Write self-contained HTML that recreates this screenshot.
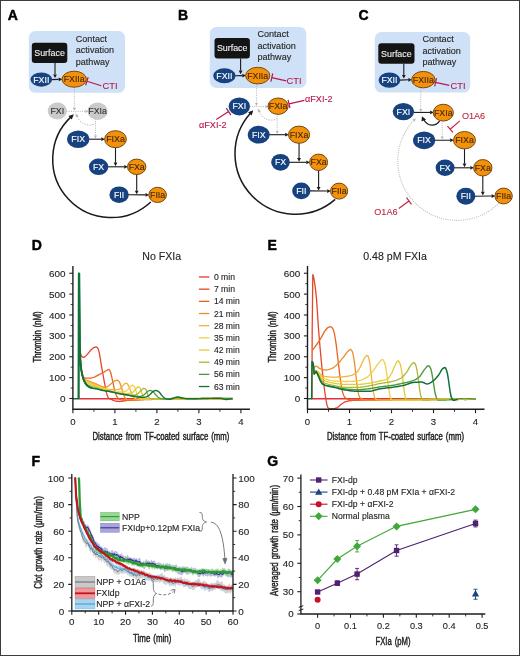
<!DOCTYPE html>
<html><head><meta charset="utf-8"><title>Figure</title>
<style>html,body{margin:0;padding:0;background:#fff}svg{display:block}text{font-family:"Liberation Sans",sans-serif}</style>
</head><body>
<svg width="520" height="656" viewBox="0 0 520 656">
<defs><clipPath id="clipDE"><rect x="60" y="260" width="440" height="149"/></clipPath><clipPath id="clipF"><rect x="71.8" y="477.6" width="161.2" height="133.4"/></clipPath></defs>
<rect x="0" y="0" width="520" height="656" fill="#fff"/>
<rect x="28.8" y="31.1" width="96.2" height="61.7" rx="6.5" fill="#cfe1f6"/>
<rect x="31.8" y="42.7" width="35.5" height="20.2" rx="3" fill="#141414"/>
<text x="49.55" y="55.9" font-size="8.9" fill="#f0f0f0" stroke="#f0f0f0" stroke-width="0.12" text-anchor="middle" stroke-width="0">Surface</text>
<text x="75.8" y="41.5" font-size="9.05" fill="#242424" stroke="#242424" stroke-width="0.12" text-anchor="start">Contact</text>
<text x="75.8" y="53.2" font-size="9.05" fill="#242424" stroke="#242424" stroke-width="0.12" text-anchor="start">activation</text>
<text x="75.8" y="64.8" font-size="9.05" fill="#242424" stroke="#242424" stroke-width="0.12" text-anchor="start">pathway</text>
<path d="M55,62.9L55,74.5" stroke="#1a1a1a" stroke-width="1.1" fill="none"/>
<path d="M55,78.1L53.1,74.5L56.9,74.5Z" fill="#1a1a1a"/>
<path d="M51.3,79.6L58.7,79.33" stroke="#1a1a1a" stroke-width="1.1" fill="none"/>
<path d="M62.3,79.2L58.77,81.23L58.63,77.43Z" fill="#1a1a1a"/>
<path d="M86.9,81.3L101.3,85.8M85.65,85.31L88.15,77.29" stroke="#b7184f" stroke-width="1.2" fill="none"/>
<text x="102.5" y="89.3" font-size="9.3" fill="#b7184f" stroke="#b7184f" stroke-width="0.12" text-anchor="start">CTI</text>
<path d="M74.4,87.2L74.4,107.85" stroke="#b8b8b8" stroke-width="1.0" fill="none" stroke-dasharray="1,1.2"/>
<path d="M74.4,110.85L72.8,107.85L76,107.85Z" fill="#b8b8b8"/>
<path d="M66.6,111.35L85.4,111.35" stroke="#b8b8b8" stroke-width="1.0" fill="none" stroke-dasharray="1,1.2"/>
<path d="M88.4,111.35L85.4,112.95L85.4,109.75Z" fill="#b8b8b8"/>
<path d="M95.5,118.8L95.5,135.4" stroke="#b8b8b8" stroke-width="1.0" fill="none" stroke-dasharray="1,1.2"/>
<path d="M95.5,138.4L93.9,135.4L97.1,135.4Z" fill="#b8b8b8"/>
<path d="M95.5,123.3C92.5,126.3 80.4,126.3 77.4,116.35" stroke="#b8b8b8" stroke-width="1" fill="none" stroke-dasharray="1.2,1.4"/>
<path d="M75.4,113.35L79,115.95L76,117.35Z" fill="#b8b8b8"/>
<path d="M88.5,139.2L101.3,139.2" stroke="#1a1a1a" stroke-width="1.1" fill="none"/>
<path d="M104.9,139.2L101.3,141.1L101.3,137.3Z" fill="#1a1a1a"/>
<path d="M115.5,147.2L115.5,162.6" stroke="#1a1a1a" stroke-width="1.1" fill="none"/>
<path d="M115.5,166.2L113.6,162.6L117.4,162.6Z" fill="#1a1a1a"/>
<path d="M107.5,166.8L124.2,166.8" stroke="#1a1a1a" stroke-width="1.1" fill="none"/>
<path d="M127.8,166.8L124.2,168.7L124.2,164.9Z" fill="#1a1a1a"/>
<path d="M136.7,174L136.7,190.7" stroke="#1a1a1a" stroke-width="1.1" fill="none"/>
<path d="M136.7,194.3L134.8,190.7L138.6,190.7Z" fill="#1a1a1a"/>
<path d="M128,194.7L145.5,194.87" stroke="#1a1a1a" stroke-width="1.1" fill="none"/>
<path d="M149.1,194.9L145.48,196.77L145.52,192.97Z" fill="#1a1a1a"/>
<path d="M150.76,201.94A58.3,58.3 0 0 1 71.24,116.66" stroke="#1a1a1a" stroke-width="1.5" fill="none"/>
<path d="M73.8,114.28L68.51,115.93L71.78,119.44Z" fill="#1a1a1a"/>
<ellipse cx="41.3" cy="79.6" rx="10.8" ry="7.1" fill="#174280"/>
<text x="41.3" y="82.65" font-size="8.8" fill="#fff" stroke="#fff" stroke-width="0.12" text-anchor="middle">FXII</text>
<ellipse cx="74.2" cy="79.2" rx="12.2" ry="8" fill="#f2920c" stroke="#77480f" stroke-width="1"/>
<text x="74.2" y="82.25" font-size="8.8" fill="#4a2805" stroke="#4a2805" stroke-width="0.12" text-anchor="middle">FXIIa</text>
<ellipse cx="57.3" cy="110.9" rx="9.6" ry="8.5" fill="#cacaca"/>
<text x="57.3" y="113.95" font-size="8.8" fill="#333" stroke="#333" stroke-width="0.12" text-anchor="middle">FXI</text>
<ellipse cx="97.6" cy="111.2" rx="10" ry="8.7" fill="#cacaca"/>
<text x="97.6" y="114.25" font-size="8.8" fill="#333" stroke="#333" stroke-width="0.12" text-anchor="middle">FXIa</text>
<ellipse cx="78.2" cy="139.2" rx="11.1" ry="8.8" fill="#174280"/>
<text x="78.2" y="142.25" font-size="8.8" fill="#fff" stroke="#fff" stroke-width="0.12" text-anchor="middle">FIX</text>
<ellipse cx="115.5" cy="139.2" rx="10.9" ry="8.5" fill="#f2920c" stroke="#77480f" stroke-width="1"/>
<text x="115.5" y="142.25" font-size="8.8" fill="#4a2805" stroke="#4a2805" stroke-width="0.12" text-anchor="middle">FIXa</text>
<ellipse cx="98.6" cy="166.8" rx="9.7" ry="8.3" fill="#174280"/>
<text x="98.6" y="169.85" font-size="8.8" fill="#fff" stroke="#fff" stroke-width="0.12" text-anchor="middle">FX</text>
<ellipse cx="136.7" cy="166.8" rx="9.2" ry="7.7" fill="#f2920c" stroke="#77480f" stroke-width="1"/>
<text x="136.7" y="169.85" font-size="8.8" fill="#4a2805" stroke="#4a2805" stroke-width="0.12" text-anchor="middle">FXa</text>
<ellipse cx="119.1" cy="194.7" rx="9.7" ry="8.3" fill="#174280"/>
<text x="119.1" y="197.75" font-size="8.8" fill="#fff" stroke="#fff" stroke-width="0.12" text-anchor="middle">FII</text>
<ellipse cx="157.6" cy="194.9" rx="8.8" ry="7.6" fill="#f2920c" stroke="#77480f" stroke-width="1"/>
<text x="157.6" y="197.95" font-size="8.8" fill="#4a2805" stroke="#4a2805" stroke-width="0.12" text-anchor="middle">FIIa</text>
<text x="7.8" y="20" font-size="14" fill="#000" stroke="#000" stroke-width="0.45" stroke-linejoin="round" text-anchor="start" font-weight="bold">A</text>
<rect x="209.8" y="27" width="96.5" height="61" rx="6.5" fill="#cfe1f6"/>
<rect x="214.5" y="38" width="35.4" height="20.6" rx="3" fill="#141414"/>
<text x="232.2" y="51.4" font-size="8.9" fill="#f0f0f0" stroke="#f0f0f0" stroke-width="0.12" text-anchor="middle" stroke-width="0">Surface</text>
<text x="257.5" y="36.8" font-size="9.05" fill="#242424" stroke="#242424" stroke-width="0.12" text-anchor="start">Contact</text>
<text x="257.5" y="48.5" font-size="9.05" fill="#242424" stroke="#242424" stroke-width="0.12" text-anchor="start">activation</text>
<text x="257.5" y="60.1" font-size="9.05" fill="#242424" stroke="#242424" stroke-width="0.12" text-anchor="start">pathway</text>
<path d="M240.6,58.6L240.6,70.6" stroke="#1a1a1a" stroke-width="1.1" fill="none"/>
<path d="M240.6,74.2L238.7,70.6L242.5,70.6Z" fill="#1a1a1a"/>
<path d="M234.8,75.7L242.3,75.63" stroke="#1a1a1a" stroke-width="1.1" fill="none"/>
<path d="M245.9,75.6L242.32,77.53L242.28,73.73Z" fill="#1a1a1a"/>
<path d="M271.8,77.6L286.3,80.9M270.87,81.7L272.73,73.5" stroke="#b7184f" stroke-width="1.2" fill="none"/>
<text x="286.6" y="84.3" font-size="9.3" fill="#b7184f" stroke="#b7184f" stroke-width="0.12" text-anchor="start">CTI</text>
<path d="M256.5,83.9L256.5,103.1" stroke="#b8b8b8" stroke-width="1.0" fill="none" stroke-dasharray="1,1.2"/>
<path d="M256.5,106.1L254.9,103.1L258.1,103.1Z" fill="#b8b8b8"/>
<path d="M249.7,106.6L265.5,106.6" stroke="#b8b8b8" stroke-width="1.0" fill="none" stroke-dasharray="1,1.2"/>
<path d="M268.5,106.6L265.5,108.2L265.5,105Z" fill="#b8b8b8"/>
<path d="M277.2,113.9L277.2,130.9" stroke="#b8b8b8" stroke-width="1.0" fill="none" stroke-dasharray="1,1.2"/>
<path d="M277.2,133.9L275.6,130.9L278.8,130.9Z" fill="#b8b8b8"/>
<path d="M277.2,118.4C274.2,121.4 262.5,121.4 259.5,111.6" stroke="#b8b8b8" stroke-width="1" fill="none" stroke-dasharray="1.2,1.4"/>
<path d="M257.5,108.6L261.1,111.2L258.1,112.6Z" fill="#b8b8b8"/>
<path d="M268.95,134.7L285.15,134.7" stroke="#1a1a1a" stroke-width="1.1" fill="none"/>
<path d="M288.75,134.7L285.15,136.6L285.15,132.8Z" fill="#1a1a1a"/>
<path d="M299.05,142.8L299.05,158.1" stroke="#1a1a1a" stroke-width="1.1" fill="none"/>
<path d="M299.05,161.7L297.15,158.1L300.95,158.1Z" fill="#1a1a1a"/>
<path d="M289,162.3L306.3,162.3" stroke="#1a1a1a" stroke-width="1.1" fill="none"/>
<path d="M309.9,162.3L306.3,164.2L306.3,160.4Z" fill="#1a1a1a"/>
<path d="M318.6,170L318.6,186.9" stroke="#1a1a1a" stroke-width="1.1" fill="none"/>
<path d="M318.6,190.5L316.7,186.9L320.5,186.9Z" fill="#1a1a1a"/>
<path d="M309.6,190.9L327.2,191.07" stroke="#1a1a1a" stroke-width="1.1" fill="none"/>
<path d="M330.8,191.1L327.18,192.97L327.22,189.17Z" fill="#1a1a1a"/>
<path d="M335.19,199.36A60.5,60.5 0 0 1 250.89,112.83" stroke="#1a1a1a" stroke-width="1.5" fill="none"/>
<path d="M253.26,110.25L248.11,112.31L251.65,115.55Z" fill="#1a1a1a"/>
<ellipse cx="224.4" cy="75.7" rx="11.2" ry="7.5" fill="#174280"/>
<text x="224.4" y="78.75" font-size="8.8" fill="#fff" stroke="#fff" stroke-width="0.12" text-anchor="middle">FXII</text>
<ellipse cx="257.7" cy="75.6" rx="12.1" ry="8.3" fill="#f2920c" stroke="#77480f" stroke-width="1"/>
<text x="257.7" y="78.65" font-size="8.8" fill="#4a2805" stroke="#4a2805" stroke-width="0.12" text-anchor="middle">FXIIa</text>
<ellipse cx="239.3" cy="106.4" rx="10.7" ry="9" fill="#174280"/>
<text x="239.3" y="109.45" font-size="8.8" fill="#fff" stroke="#fff" stroke-width="0.12" text-anchor="middle">FXI</text>
<ellipse cx="278.1" cy="106.2" rx="10.1" ry="8.2" fill="#f2920c" stroke="#77480f" stroke-width="1"/>
<text x="278.1" y="109.25" font-size="8.8" fill="#4a2805" stroke="#4a2805" stroke-width="0.12" text-anchor="middle">FXIa</text>
<ellipse cx="258.75" cy="134.7" rx="11" ry="8.9" fill="#174280"/>
<text x="258.75" y="137.75" font-size="8.8" fill="#fff" stroke="#fff" stroke-width="0.12" text-anchor="middle">FIX</text>
<ellipse cx="299.05" cy="134.7" rx="10.6" ry="8.6" fill="#f2920c" stroke="#77480f" stroke-width="1"/>
<text x="299.05" y="137.75" font-size="8.8" fill="#4a2805" stroke="#4a2805" stroke-width="0.12" text-anchor="middle">FIXa</text>
<ellipse cx="280.5" cy="162.3" rx="9.3" ry="8.4" fill="#174280"/>
<text x="280.5" y="165.35" font-size="8.8" fill="#fff" stroke="#fff" stroke-width="0.12" text-anchor="middle">FX</text>
<ellipse cx="318.6" cy="162.3" rx="9" ry="8.2" fill="#f2920c" stroke="#77480f" stroke-width="1"/>
<text x="318.6" y="165.35" font-size="8.8" fill="#4a2805" stroke="#4a2805" stroke-width="0.12" text-anchor="middle">FXa</text>
<ellipse cx="301.3" cy="190.9" rx="9.1" ry="8.4" fill="#174280"/>
<text x="301.3" y="193.95" font-size="8.8" fill="#fff" stroke="#fff" stroke-width="0.12" text-anchor="middle">FII</text>
<ellipse cx="339.1" cy="191.1" rx="8.6" ry="8" fill="#f2920c" stroke="#77480f" stroke-width="1"/>
<text x="339.1" y="194.15" font-size="8.8" fill="#4a2805" stroke="#4a2805" stroke-width="0.12" text-anchor="middle">FIIa</text>
<path d="M228.6,111.6L216.3,119.5M226.33,108.07L230.87,115.13" stroke="#b7184f" stroke-width="1.2" fill="none"/>
<text x="199" y="128" font-size="9.1" fill="#b7184f" stroke="#b7184f" stroke-width="0.12" text-anchor="start">αFXI-2</text>
<path d="M289,103.9L304.4,100.4M289.93,108L288.07,99.8" stroke="#b7184f" stroke-width="1.2" fill="none"/>
<text x="305" y="102.4" font-size="9.1" fill="#b7184f" stroke="#b7184f" stroke-width="0.12" text-anchor="start">αFXI-2</text>
<text x="178" y="20" font-size="14" fill="#000" stroke="#000" stroke-width="0.45" stroke-linejoin="round" text-anchor="start" font-weight="bold">B</text>
<rect x="374.8" y="32" width="95.4" height="60.6" rx="6.5" fill="#cfe1f6"/>
<rect x="378.3" y="43.3" width="36.2" height="20.4" rx="3" fill="#141414"/>
<text x="396.4" y="56.6" font-size="8.9" fill="#f0f0f0" stroke="#f0f0f0" stroke-width="0.12" text-anchor="middle" stroke-width="0">Surface</text>
<text x="422.5" y="42" font-size="9.05" fill="#242424" stroke="#242424" stroke-width="0.12" text-anchor="start">Contact</text>
<text x="422.5" y="53.7" font-size="9.05" fill="#242424" stroke="#242424" stroke-width="0.12" text-anchor="start">activation</text>
<text x="422.5" y="65.3" font-size="9.05" fill="#242424" stroke="#242424" stroke-width="0.12" text-anchor="start">pathway</text>
<path d="M403.8,63.7L403.8,75" stroke="#1a1a1a" stroke-width="1.1" fill="none"/>
<path d="M403.8,78.6L401.9,75L405.7,75Z" fill="#1a1a1a"/>
<path d="M399.55,80.1L408.3,79.78" stroke="#1a1a1a" stroke-width="1.1" fill="none"/>
<path d="M411.9,79.65L408.37,81.68L408.23,77.88Z" fill="#1a1a1a"/>
<path d="M435.6,82.3L449.2,85.3M434.7,86.4L436.5,78.2" stroke="#b7184f" stroke-width="1.2" fill="none"/>
<text x="450.5" y="89.1" font-size="9.3" fill="#b7184f" stroke="#b7184f" stroke-width="0.12" text-anchor="start">CTI</text>
<path d="M420.8,87.85L420.8,108.92" stroke="#b8b8b8" stroke-width="1.0" fill="none" stroke-dasharray="1,1.2"/>
<path d="M420.8,111.92L419.2,108.92L422.4,108.92Z" fill="#b8b8b8"/>
<path d="M413.3,112.42L430.1,112.42" stroke="#1a1a1a" stroke-width="1.1" fill="none"/>
<path d="M433.7,112.42L430.1,114.33L430.1,110.52Z" fill="#1a1a1a"/>
<path d="M442.2,120.55L442.2,136.5" stroke="#b8b8b8" stroke-width="1.0" fill="none" stroke-dasharray="1,1.2"/>
<path d="M442.2,139.5L440.6,136.5L443.8,136.5Z" fill="#b8b8b8"/>
<path d="M434.4,140.3L450.2,140.22" stroke="#1a1a1a" stroke-width="1.1" fill="none"/>
<path d="M453.8,140.2L450.21,142.12L450.19,138.32Z" fill="#1a1a1a"/>
<path d="M464.5,148.4L464.5,163.6" stroke="#1a1a1a" stroke-width="1.1" fill="none"/>
<path d="M464.5,167.2L462.6,163.6L466.4,163.6Z" fill="#1a1a1a"/>
<path d="M453.8,167.8L470.3,167.8" stroke="#1a1a1a" stroke-width="1.1" fill="none"/>
<path d="M473.9,167.8L470.3,169.7L470.3,165.9Z" fill="#1a1a1a"/>
<path d="M482.8,175.5L482.8,191.8" stroke="#1a1a1a" stroke-width="1.1" fill="none"/>
<path d="M482.8,195.4L480.9,191.8L484.7,191.8Z" fill="#1a1a1a"/>
<path d="M474.55,196.25L491.6,196.04" stroke="#1a1a1a" stroke-width="1.1" fill="none"/>
<path d="M495.2,196L491.62,197.94L491.58,194.14Z" fill="#1a1a1a"/>
<path d="M499,203.1A59.4,59.4 0 0 1 414.27,119.84" stroke="#b8b8b8" stroke-width="1.1" fill="none" stroke-dasharray="1,1.2"/>
<path d="M415.83,118.23L412.45,119.42L414.76,121.64Z" fill="#b8b8b8"/>
<path d="M439.6,120.8C436,126.3 427.5,127.2 423.6,119.2" stroke="#1a1a1a" stroke-width="1.2" fill="none"/>
<path d="M421.9,116.2L426,119.6L421.6,121.4Z" fill="#1a1a1a"/>
<ellipse cx="389.45" cy="80.1" rx="10.9" ry="7.7" fill="#174280"/>
<text x="389.45" y="83.15" font-size="8.8" fill="#fff" stroke="#fff" stroke-width="0.12" text-anchor="middle">FXII</text>
<ellipse cx="423.3" cy="79.65" rx="11.7" ry="8.2" fill="#f2920c" stroke="#77480f" stroke-width="1"/>
<text x="423.3" y="82.7" font-size="8.8" fill="#4a2805" stroke="#4a2805" stroke-width="0.12" text-anchor="middle">FXIIa</text>
<ellipse cx="403.4" cy="111.6" rx="10.7" ry="8.6" fill="#174280"/>
<text x="403.4" y="114.65" font-size="8.8" fill="#fff" stroke="#fff" stroke-width="0.12" text-anchor="middle">FXI</text>
<ellipse cx="443.3" cy="112.65" rx="10.1" ry="8.4" fill="#f2920c" stroke="#77480f" stroke-width="1"/>
<text x="443.3" y="115.7" font-size="8.8" fill="#4a2805" stroke="#4a2805" stroke-width="0.12" text-anchor="middle">FXIa</text>
<ellipse cx="424.1" cy="140.3" rx="11.1" ry="8.9" fill="#174280"/>
<text x="424.1" y="143.35" font-size="8.8" fill="#fff" stroke="#fff" stroke-width="0.12" text-anchor="middle">FIX</text>
<ellipse cx="464.5" cy="140.2" rx="11" ry="8.7" fill="#f2920c" stroke="#77480f" stroke-width="1"/>
<text x="464.5" y="143.25" font-size="8.8" fill="#4a2805" stroke="#4a2805" stroke-width="0.12" text-anchor="middle">FIXa</text>
<ellipse cx="445.1" cy="167.8" rx="9.5" ry="8.2" fill="#174280"/>
<text x="445.1" y="170.85" font-size="8.8" fill="#fff" stroke="#fff" stroke-width="0.12" text-anchor="middle">FX</text>
<ellipse cx="482.8" cy="167.8" rx="9.2" ry="8.2" fill="#f2920c" stroke="#77480f" stroke-width="1"/>
<text x="482.8" y="170.85" font-size="8.8" fill="#4a2805" stroke="#4a2805" stroke-width="0.12" text-anchor="middle">FXa</text>
<ellipse cx="465.85" cy="196.25" rx="9.5" ry="8.4" fill="#174280"/>
<text x="465.85" y="199.3" font-size="8.8" fill="#fff" stroke="#fff" stroke-width="0.12" text-anchor="middle">FII</text>
<ellipse cx="503.6" cy="196" rx="8.7" ry="7.9" fill="#f2920c" stroke="#77480f" stroke-width="1"/>
<text x="503.6" y="199.05" font-size="8.8" fill="#4a2805" stroke="#4a2805" stroke-width="0.12" text-anchor="middle">FIIa</text>
<path d="M450.2,129.2L459.8,120.9M452.95,132.38L447.45,126.02" stroke="#c02845" stroke-width="1.2" fill="none"/>
<text x="461.9" y="119.3" font-size="9.1" fill="#c02845" stroke="#c02845" stroke-width="0.12" text-anchor="start">O1A6</text>
<path d="M409,200.9L398.8,208.4M406.51,197.52L411.49,204.28" stroke="#c02845" stroke-width="1.2" fill="none"/>
<text x="374.3" y="214.7" font-size="9.1" fill="#c02845" stroke="#c02845" stroke-width="0.12" text-anchor="start">O1A6</text>
<text x="358.5" y="20" font-size="14" fill="#000" stroke="#000" stroke-width="0.45" stroke-linejoin="round" text-anchor="start" font-weight="bold">C</text>
<text x="161.7" y="259.8" font-size="10.6" fill="#242424" stroke="#242424" stroke-width="0.12" text-anchor="middle">No FXIa</text>
<text x="31.8" y="250" font-size="14" fill="#000" stroke="#000" stroke-width="0.45" stroke-linejoin="round" text-anchor="start" font-weight="bold">D</text>
<g clip-path="url(#clipDE)">
<path d="M78.5,398.8L79.49,398.8L80.49,398.8L81.48,398.8L82.47,398.8L83.47,398.8L84.46,398.8L85.45,398.8L86.44,398.8L87.44,398.8L88.43,398.8L89.42,398.8L90.42,398.8L91.41,398.8L92.4,398.8L93.4,398.8L94.39,398.8L95.38,398.8L96.38,398.8L97.37,398.8L98.36,398.8L99.35,398.8L100.35,398.8L101.34,398.8L102.33,398.8L103.33,398.8L104.32,398.8L105.31,398.8L106.31,398.8L107.3,398.8L108.29,398.8L109.28,398.8L110.28,398.8L111.27,398.8L112.26,398.8L113.26,398.8L114.25,398.8L115.24,398.8L116.24,398.8L117.23,398.8L118.22,398.8L119.22,398.8L120.21,398.8L121.2,398.8L122.19,398.8L123.19,398.8L124.18,398.8L125.17,398.8L126.17,398.8L127.16,398.8L128.15,398.8L129.15,398.8L130.14,398.8L131.13,398.8L132.12,398.8L133.12,398.8L134.11,398.8L135.1,398.8L136.1,398.8L137.09,398.8L138.08,398.8L139.08,398.8L140.07,398.8L141.06,398.8L142.06,398.8L143.05,398.8L144.04,398.8L145.03,398.8L146.03,398.8L147.02,398.8L148.01,398.8L149.01,398.8L150,398.8L150.99,398.8L151.99,398.8L152.98,398.8L153.98,398.8L154.97,398.8L155.96,398.8L156.96,398.8L157.95,398.8L158.95,398.8L159.94,398.8L160.93,398.8L161.93,398.8L162.92,398.8L163.92,398.8L164.91,398.8L165.9,398.8L166.9,398.8L167.89,398.8L168.89,398.8L169.88,398.8L170.87,398.8L171.87,398.8L172.86,398.8L173.86,398.8L174.85,398.8L175.84,398.8L176.84,398.8L177.83,398.8L178.83,398.8L179.82,398.8L180.81,398.8L181.81,398.8L182.8,398.8L183.8,398.8L184.79,398.8L185.78,398.8L186.78,398.8L187.77,398.8L188.77,398.8L189.76,398.8L190.75,398.8L191.75,398.8L192.74,398.8L193.73,398.8L194.73,398.8L195.72,398.8L196.72,398.8L197.71,398.8L198.7,398.8L199.7,398.8L200.69,398.8L201.69,398.8L202.68,398.8L203.67,398.8L204.67,398.8L205.66,398.8L206.66,398.8L207.65,398.8L208.64,398.8L209.64,398.8L210.63,398.8L211.63,398.8L212.62,398.8L213.61,398.8L214.61,398.8L215.6,398.8L216.6,398.8L217.59,398.8L218.58,398.8L219.58,398.8L220.57,398.8L221.57,398.8L222.56,398.8L223.55,398.8L224.55,398.8L225.54,398.8L226.54,398.8L227.53,398.8L228.52,398.8L229.52,398.8L230.51,398.8L231.51,398.8L232.5,398.8" stroke="#e0303c" stroke-width="1.4" fill="none" stroke-linejoin="round"/>
<path d="M79.7,350.5L80.45,353.58L81.2,355.8L81.97,356.63L82.73,357.19L83.5,357.4L84.28,357.17L85.05,356.6L85.82,355.85L86.6,355.1L87.57,354.06L88.55,352.83L89.53,351.58L90.5,350.5L91.45,349.57L92.4,348.67L93.35,347.91L94.3,347.4L95.25,347.06L96.2,346.9L97.2,347.49L98.2,348.9L98.95,351.39L99.7,355.1L100.45,359.51L101.2,364.3L102,368.98L102.8,373.5L103.57,377.74L104.33,381.87L105.1,385.8L106.1,391.07L107.1,395.1L108,397.03L108.9,398.2L109.68,398.72L110.45,399.09L111.22,399.39L112,399.7L112.78,400.05L113.55,400.39L114.32,400.69L115.1,400.9L116.02,401.08L116.94,401.24L117.86,401.38L118.78,401.47L119.7,401.5L120.62,401.46L121.54,401.35L122.46,401.2L123.38,401.05L124.3,400.9L125.22,400.76L126.14,400.6L127.06,400.45L127.98,400.31L128.9,400.2L129.83,400.12L130.75,400.04L131.68,399.96L132.6,399.89L133.53,399.83L134.45,399.77L135.38,399.72L136.3,399.67L137.22,399.62L138.15,399.58L139.07,399.54L140,399.5L141,399.46L142,399.43L143,399.39L144,399.36L145,399.32L146,399.29L147,399.26L148,399.23L149,399.2L150,399.17L151,399.15L152,399.12L153,399.1L154,399.08L155,399.06L156,399.04L157,399.03L158,399.02L159,399.01L160,399L160.99,398.99L161.99,398.99L162.98,398.98L163.97,398.98L164.97,398.97L165.96,398.97L166.95,398.96L167.95,398.96L168.94,398.95L169.93,398.95L170.92,398.95L171.92,398.94L172.91,398.94L173.9,398.93L174.9,398.93L175.89,398.93L176.88,398.92L177.88,398.92L178.87,398.92L179.86,398.91L180.86,398.91L181.85,398.91L182.84,398.9L183.84,398.9L184.83,398.9L185.82,398.9L186.82,398.89L187.81,398.89L188.8,398.89L189.79,398.89L190.79,398.88L191.78,398.88L192.77,398.88L193.77,398.88L194.76,398.87L195.75,398.87L196.75,398.87L197.74,398.87L198.73,398.87L199.73,398.87L200.72,398.86L201.71,398.86L202.71,398.86L203.7,398.86L204.69,398.86L205.68,398.85L206.68,398.85L207.67,398.85L208.66,398.85L209.66,398.85L210.65,398.85L211.64,398.84L212.64,398.84L213.63,398.84L214.62,398.84L215.62,398.84L216.61,398.84L217.6,398.83L218.6,398.83L219.59,398.83L220.58,398.83L221.58,398.83L222.57,398.82L223.56,398.82L224.55,398.82L225.55,398.82L226.54,398.82L227.53,398.81L228.53,398.81L229.52,398.81L230.51,398.81L231.51,398.8L232.5,398.8" stroke="#e4462a" stroke-width="1.3" fill="none" stroke-linejoin="round"/>
<path d="M79.6,352L80.4,360.53L81.2,369.06L82,374L82.78,375.72L83.55,377.04L84.32,377.9L85.1,378.2L86.05,378.2L87,378.2L87.95,378.2L88.9,378.2L89.82,378.15L90.74,378.03L91.66,377.85L92.58,377.63L93.5,377.4L94.44,377.08L95.38,376.64L96.32,376.13L97.26,375.6L98.2,375.1L99.12,374.65L100.04,374.21L100.96,373.76L101.88,373.29L102.8,372.8L103.75,372.24L104.7,371.64L105.65,371.04L106.6,370.5L107.37,370.03L108.13,369.6L108.9,369.4L109.7,370.23L110.5,372L111.25,374.72L112,378.2L112.75,381.63L113.5,385.1L114.3,388.82L115.1,392L115.87,394.24L116.63,396.09L117.4,397.4L118.17,398.29L118.93,398.97L119.7,399.4L120.47,399.66L121.25,399.86L122.03,400.01L122.8,400.1L123.72,400.17L124.64,400.22L125.56,400.26L126.48,400.29L127.4,400.3L128.38,400.3L129.37,400.29L130.35,400.27L131.33,400.24L132.31,400.22L133.3,400.18L134.28,400.15L135.26,400.1L136.24,400.06L137.23,400.02L138.21,399.97L139.19,399.92L140.17,399.87L141.16,399.82L142.14,399.77L143.12,399.73L144.1,399.68L145.09,399.64L146.07,399.61L147.05,399.57L148.03,399.54L149.02,399.52L150,399.5L150.99,399.48L151.99,399.47L152.98,399.46L153.98,399.44L154.97,399.43L155.96,399.41L156.96,399.4L157.95,399.39L158.95,399.37L159.94,399.36L160.93,399.35L161.93,399.34L162.92,399.33L163.92,399.31L164.91,399.3L165.9,399.29L166.9,399.28L167.89,399.27L168.89,399.26L169.88,399.25L170.87,399.24L171.87,399.23L172.86,399.22L173.86,399.21L174.85,399.2L175.84,399.2L176.84,399.19L177.83,399.18L178.83,399.17L179.82,399.16L180.81,399.15L181.81,399.15L182.8,399.14L183.8,399.13L184.79,399.12L185.78,399.12L186.78,399.11L187.77,399.1L188.77,399.09L189.76,399.09L190.75,399.08L191.75,399.07L192.74,399.07L193.73,399.06L194.73,399.05L195.72,399.05L196.72,399.04L197.71,399.04L198.7,399.03L199.7,399.02L200.69,399.02L201.69,399.01L202.68,399L203.67,399L204.67,398.99L205.66,398.99L206.66,398.98L207.65,398.97L208.64,398.97L209.64,398.96L210.63,398.96L211.63,398.95L212.62,398.94L213.61,398.94L214.61,398.93L215.6,398.92L216.6,398.92L217.59,398.91L218.58,398.9L219.58,398.9L220.57,398.89L221.57,398.88L222.56,398.88L223.55,398.87L224.55,398.86L225.54,398.86L226.54,398.85L227.53,398.84L228.52,398.83L229.52,398.82L230.51,398.82L231.51,398.81L232.5,398.8" stroke="#e8651f" stroke-width="1.3" fill="none" stroke-linejoin="round"/>
<path d="M79.6,352L80.4,360.59L81.2,369.19L82,374.5L82.77,376.63L83.53,378.11L84.3,379L85.08,379.52L85.85,379.89L86.62,380.19L87.4,380.5L88.36,380.91L89.33,381.3L90.29,381.68L91.25,382.04L92.21,382.4L93.17,382.76L94.14,383.13L95.1,383.5L96.06,383.9L97.02,384.33L97.99,384.78L98.95,385.22L99.91,385.64L100.88,386.02L101.84,386.34L102.8,386.6L103.8,386.83L104.8,387.02L105.8,387.1L106.74,386.91L107.68,386.43L108.62,385.75L109.56,385.01L110.5,384.3L111.45,383.53L112.4,382.65L113.35,381.82L114.3,381.2L115.23,380.74L116.17,380.36L117.1,380.2L118,380.5L118.9,381.2L119.9,383.05L120.9,385.8L121.85,388.79L122.8,392L123.55,394.56L124.3,396.6L125.05,397.77L125.8,398.5L126.58,398.96L127.35,399.34L128.12,399.6L128.9,399.7L129.86,399.7L130.82,399.69L131.78,399.68L132.74,399.67L133.7,399.66L134.65,399.64L135.61,399.62L136.57,399.6L137.53,399.58L138.49,399.55L139.45,399.53L140.41,399.5L141.37,399.48L142.33,399.45L143.29,399.43L144.25,399.4L145.2,399.38L146.16,399.36L147.12,399.34L148.08,399.33L149.04,399.31L150,399.3L150.99,399.29L151.99,399.28L152.98,399.27L153.98,399.26L154.97,399.25L155.96,399.24L156.96,399.23L157.95,399.22L158.95,399.22L159.94,399.21L160.93,399.2L161.93,399.19L162.92,399.18L163.92,399.18L164.91,399.17L165.9,399.16L166.9,399.15L167.89,399.15L168.89,399.14L169.88,399.13L170.87,399.12L171.87,399.12L172.86,399.11L173.86,399.11L174.85,399.1L175.84,399.09L176.84,399.09L177.83,399.08L178.83,399.07L179.82,399.07L180.81,399.06L181.81,399.06L182.8,399.05L183.8,399.05L184.79,399.04L185.78,399.04L186.78,399.03L187.77,399.02L188.77,399.02L189.76,399.01L190.75,399.01L191.75,399L192.74,399L193.73,398.99L194.73,398.99L195.72,398.99L196.72,398.98L197.71,398.98L198.7,398.97L199.7,398.97L200.69,398.96L201.69,398.96L202.68,398.95L203.67,398.95L204.67,398.94L205.66,398.94L206.66,398.93L207.65,398.93L208.64,398.92L209.64,398.92L210.63,398.91L211.63,398.91L212.62,398.91L213.61,398.9L214.61,398.9L215.6,398.89L216.6,398.89L217.59,398.88L218.58,398.88L219.58,398.87L220.57,398.87L221.57,398.86L222.56,398.86L223.55,398.85L224.55,398.85L225.54,398.84L226.54,398.83L227.53,398.83L228.52,398.82L229.52,398.82L230.51,398.81L231.51,398.81L232.5,398.8" stroke="#ee8c2a" stroke-width="1.3" fill="none" stroke-linejoin="round"/>
<path d="M79.6,352L80.4,360.54L81.2,369.08L82,374.5L82.77,376.84L83.53,378.49L84.3,379.5L85.08,380.09L85.85,380.52L86.62,380.86L87.4,381.2L88.36,381.64L89.33,382.05L90.29,382.44L91.25,382.82L92.21,383.19L93.17,383.55L94.14,383.92L95.1,384.3L96.06,384.69L97.02,385.1L97.99,385.5L98.95,385.91L99.91,386.3L100.88,386.69L101.84,387.06L102.8,387.4L103.76,387.75L104.72,388.13L105.69,388.51L106.65,388.88L107.61,389.2L108.58,389.46L109.54,389.64L110.5,389.7L111.46,389.7L112.42,389.7L113.39,389.7L114.35,389.7L115.31,389.7L116.28,389.7L117.24,389.7L118.2,389.7L119.12,389.43L120.04,388.74L120.96,387.79L121.88,386.75L122.8,385.8L123.57,384.94L124.33,384.05L125.1,383.5L125.85,383.29L126.6,383.2L127.4,383.84L128.2,385.1L128.97,386.63L129.73,388.57L130.5,390.5L131.27,392.35L132.03,394.19L132.8,395.8L133.55,397.22L134.3,398.2L135.07,398.7L135.83,399.06L136.6,399.2L137.57,399.2L138.55,399.2L139.53,399.2L140.5,399.2L141.47,399.2L142.45,399.2L143.42,399.2L144.4,399.2L145.38,399.2L146.35,399.2L147.32,399.2L148.3,399.2L149.28,399.2L150.25,399.2L151.22,399.2L152.2,399.2L153.18,399.2L154.15,399.2L155.12,399.2L156.1,399.2L157.07,399.2L158.05,399.2L159.03,399.2L160,399.2L160.99,399.2L161.99,399.2L162.98,399.2L163.97,399.2L164.97,399.2L165.96,399.19L166.95,399.19L167.95,399.19L168.94,399.19L169.93,399.19L170.92,399.18L171.92,399.18L172.91,399.18L173.9,399.17L174.9,399.17L175.89,399.17L176.88,399.16L177.88,399.16L178.87,399.15L179.86,399.15L180.86,399.14L181.85,399.14L182.84,399.13L183.84,399.13L184.83,399.12L185.82,399.12L186.82,399.11L187.81,399.1L188.8,399.1L189.79,399.09L190.79,399.09L191.78,399.08L192.77,399.07L193.77,399.07L194.76,399.06L195.75,399.05L196.75,399.05L197.74,399.04L198.73,399.03L199.73,399.03L200.72,399.02L201.71,399.01L202.71,399L203.7,399L204.69,398.99L205.68,398.98L206.68,398.98L207.67,398.97L208.66,398.96L209.66,398.95L210.65,398.95L211.64,398.94L212.64,398.93L213.63,398.92L214.62,398.92L215.62,398.91L216.61,398.9L217.6,398.9L218.6,398.89L219.59,398.88L220.58,398.87L221.58,398.87L222.57,398.86L223.56,398.85L224.55,398.85L225.55,398.84L226.54,398.84L227.53,398.83L228.53,398.82L229.52,398.82L230.51,398.81L231.51,398.81L232.5,398.8" stroke="#f2b23c" stroke-width="1.3" fill="none" stroke-linejoin="round"/>
<path d="M79.6,352L80.4,360.49L81.2,368.98L82,374.5L82.77,377.04L83.53,378.86L84.3,380L85.08,380.69L85.85,381.2L86.62,381.61L87.4,382L88.36,382.49L89.33,382.94L90.29,383.36L91.25,383.76L92.21,384.15L93.17,384.53L94.14,384.91L95.1,385.3L96.06,385.7L97.02,386.11L97.99,386.52L98.95,386.92L99.91,387.31L100.88,387.69L101.84,388.06L102.8,388.4L103.76,388.73L104.72,389.05L105.69,389.37L106.65,389.67L107.61,389.96L108.58,390.23L109.54,390.48L110.5,390.7L111.46,390.91L112.42,391.14L113.39,391.35L114.35,391.56L115.31,391.73L116.28,391.87L117.24,391.97L118.2,392L119.15,391.99L120.1,391.95L121.05,391.89L122,391.8L122.95,391.68L123.9,391.55L124.85,391.39L125.8,391.2L126.77,390.66L127.75,389.65L128.72,388.46L129.7,387.4L130.57,386.45L131.43,385.52L132.3,385.1L133.3,385.56L134.3,386.6L135.3,388.9L136.3,392L137.25,395.1L138.2,397.4L138.97,398.16L139.73,398.69L140.5,398.9L141.47,398.91L142.45,398.92L143.43,398.94L144.4,398.94L145.38,398.95L146.35,398.96L147.32,398.97L148.3,398.97L149.28,398.98L150.25,398.98L151.22,398.99L152.2,398.99L153.18,398.99L154.15,399L155.12,399L156.1,399L157.07,399L158.05,399L159.03,399L160,399L160.99,399L161.99,399L162.98,399L163.97,399L164.97,399L165.96,398.99L166.95,398.99L167.95,398.99L168.94,398.99L169.93,398.99L170.92,398.98L171.92,398.98L172.91,398.98L173.9,398.97L174.9,398.97L175.89,398.97L176.88,398.96L177.88,398.96L178.87,398.95L179.86,398.95L180.86,398.94L181.85,398.94L182.84,398.93L183.84,398.93L184.83,398.92L185.82,398.92L186.82,398.91L187.81,398.9L188.8,398.9L189.79,398.89L190.79,398.89L191.78,398.88L192.77,398.87L193.77,398.87L194.76,398.86L195.75,398.85L196.75,398.85L197.74,398.84L198.73,398.83L199.73,398.83L200.72,398.82L201.71,398.81L202.71,398.8L203.7,398.8L204.69,398.79L205.68,398.78L206.68,398.78L207.67,398.77L208.66,398.76L209.66,398.75L210.65,398.75L211.64,398.74L212.64,398.73L213.63,398.72L214.62,398.72L215.62,398.71L216.61,398.7L217.6,398.7L218.6,398.69L219.59,398.68L220.58,398.67L221.58,398.67L222.57,398.66L223.56,398.65L224.55,398.65L225.55,398.64L226.54,398.64L227.53,398.63L228.53,398.62L229.52,398.62L230.51,398.61L231.51,398.61L232.5,398.6" stroke="#f3cf45" stroke-width="1.3" fill="none" stroke-linejoin="round"/>
<path d="M79.6,352L80.4,360.44L81.2,368.89L82,374.5L82.77,377.23L83.53,379.21L84.3,380.5L85.08,381.36L85.85,382.01L86.62,382.54L87.4,383L88.36,383.53L89.33,384L90.29,384.43L91.25,384.83L92.21,385.2L93.17,385.56L94.14,385.92L95.1,386.3L96.06,386.69L97.02,387.07L97.99,387.46L98.95,387.83L99.91,388.2L100.88,388.55L101.84,388.88L102.8,389.2L103.76,389.5L104.72,389.78L105.69,390.06L106.65,390.32L107.61,390.57L108.58,390.82L109.54,391.06L110.5,391.3L111.46,391.54L112.42,391.79L113.39,392.04L114.35,392.29L115.31,392.51L116.28,392.71L117.24,392.88L118.2,393L119.15,393.1L120.1,393.19L121.05,393.27L122,393.35L122.95,393.41L123.9,393.46L124.85,393.49L125.8,393.5L126.69,393.48L127.57,393.44L128.46,393.37L129.34,393.26L130.23,393.14L131.11,392.98L132,392.8L132.95,392.24L133.9,391.18L134.85,389.96L135.8,388.9L136.6,388.06L137.4,387.26L138.2,386.9L139.1,387.13L140,387.7L141,390.07L142,393.5L142.75,396L143.5,397.8L144.27,398.47L145.03,398.93L145.8,399.1L146.76,399.1L147.72,399.1L148.68,399.1L149.64,399.09L150.6,399.09L151.56,399.09L152.52,399.08L153.48,399.07L154.44,399.07L155.4,399.06L156.36,399.06L157.32,399.05L158.28,399.04L159.24,399.04L160.2,399.03L161.16,399.02L162.12,399.02L163.08,399.01L164.04,399.01L165,399L165.99,398.99L166.99,398.99L167.98,398.98L168.97,398.98L169.96,398.97L170.96,398.97L171.95,398.96L172.94,398.96L173.93,398.95L174.93,398.94L175.92,398.94L176.91,398.93L177.9,398.93L178.9,398.92L179.89,398.92L180.88,398.91L181.88,398.9L182.87,398.9L183.86,398.89L184.85,398.89L185.85,398.88L186.84,398.88L187.83,398.87L188.82,398.86L189.82,398.86L190.81,398.85L191.8,398.85L192.79,398.84L193.79,398.83L194.78,398.83L195.77,398.82L196.76,398.82L197.76,398.81L198.75,398.8L199.74,398.8L200.74,398.79L201.73,398.79L202.72,398.78L203.71,398.77L204.71,398.77L205.7,398.76L206.69,398.76L207.68,398.75L208.68,398.74L209.67,398.74L210.66,398.73L211.65,398.73L212.65,398.72L213.64,398.71L214.63,398.71L215.62,398.7L216.62,398.7L217.61,398.69L218.6,398.68L219.6,398.68L220.59,398.67L221.58,398.67L222.57,398.66L223.57,398.65L224.56,398.65L225.55,398.64L226.54,398.64L227.54,398.63L228.53,398.62L229.52,398.62L230.51,398.61L231.51,398.61L232.5,398.6" stroke="#e6c934" stroke-width="1.3" fill="none" stroke-linejoin="round"/>
<path d="M79.6,352L80.4,360.4L81.2,368.8L82,374.5L82.77,377.38L83.53,379.49L84.3,381L85.08,382.18L85.85,383.15L86.62,383.92L87.4,384.5L88.36,385.05L89.33,385.51L90.29,385.91L91.25,386.26L92.21,386.57L93.17,386.87L94.14,387.18L95.1,387.5L96.06,387.84L97.02,388.18L97.99,388.52L98.95,388.85L99.91,389.16L100.88,389.46L101.84,389.74L102.8,390L103.76,390.23L104.72,390.45L105.69,390.65L106.65,390.84L107.61,391.02L108.58,391.21L109.54,391.4L110.5,391.6L111.46,391.81L112.42,392.03L113.39,392.25L114.35,392.47L115.31,392.69L116.28,392.9L117.24,393.11L118.2,393.3L119.15,393.49L120.1,393.68L121.05,393.86L122,394.04L122.95,394.21L123.9,394.36L124.85,394.5L125.8,394.6L126.76,394.69L127.72,394.78L128.69,394.86L129.65,394.94L130.61,395.01L131.57,395.06L132.54,395.09L133.5,395.1L134.44,395.01L135.38,394.78L136.32,394.43L137.26,393.99L138.2,393.5L139.2,392.6L140.2,391.32L141.2,390.2L142.07,389.37L142.93,388.62L143.8,388.3L144.8,388.55L145.8,389.2L146.7,391.36L147.6,394.3L148.4,396.53L149.2,398L150.13,398.53L151.07,398.88L152,399L153,399L154,398.99L155,398.97L156,398.95L157,398.93L158,398.9L159,398.88L160,398.85L161,398.81L162,398.78L163,398.75L164,398.72L165,398.69L166,398.67L167,398.64L168,398.62L169,398.61L170,398.6L170.99,398.59L171.98,398.59L172.98,398.58L173.97,398.58L174.96,398.57L175.95,398.56L176.94,398.56L177.94,398.55L178.93,398.55L179.92,398.55L180.91,398.54L181.9,398.54L182.9,398.53L183.89,398.53L184.88,398.52L185.87,398.52L186.87,398.52L187.86,398.51L188.85,398.51L189.84,398.51L190.83,398.5L191.83,398.5L192.82,398.5L193.81,398.49L194.8,398.49L195.79,398.49L196.79,398.49L197.78,398.48L198.77,398.48L199.76,398.48L200.75,398.48L201.75,398.47L202.74,398.47L203.73,398.47L204.72,398.47L205.71,398.46L206.71,398.46L207.7,398.46L208.69,398.46L209.68,398.46L210.67,398.45L211.67,398.45L212.66,398.45L213.65,398.45L214.64,398.45L215.63,398.44L216.63,398.44L217.62,398.44L218.61,398.44L219.6,398.43L220.6,398.43L221.59,398.43L222.58,398.43L223.57,398.42L224.56,398.42L225.56,398.42L226.55,398.42L227.54,398.41L228.53,398.41L229.52,398.41L230.52,398.41L231.51,398.4L232.5,398.4" stroke="#a9b838" stroke-width="1.3" fill="none" stroke-linejoin="round"/>
<path d="M79.2,290L79.9,347.4L80.5,362.8L81.25,369.55L82,373.5L82.77,376.75L83.53,379.32L84.3,381.2L85.08,382.63L85.85,383.81L86.62,384.77L87.4,385.5L88.32,386.2L89.24,386.81L90.16,387.32L91.08,387.72L92,388L92.92,388.18L93.84,388.32L94.76,388.43L95.68,388.55L96.6,388.7L97.49,388.89L98.37,389.12L99.26,389.37L100.14,389.62L101.03,389.87L101.91,390.1L102.8,390.3L103.76,390.48L104.72,390.63L105.69,390.77L106.65,390.91L107.61,391.04L108.58,391.18L109.54,391.33L110.5,391.5L111.46,391.69L112.42,391.91L113.39,392.15L114.35,392.39L115.31,392.63L116.28,392.87L117.24,393.1L118.2,393.3L119.15,393.48L120.1,393.65L121.05,393.81L122,393.97L122.95,394.12L123.9,394.28L124.85,394.44L125.8,394.6L126.76,394.78L127.72,394.98L128.69,395.18L129.65,395.38L130.61,395.57L131.57,395.75L132.54,395.89L133.5,396L134.43,396.08L135.36,396.17L136.29,396.24L137.21,396.3L138.14,396.36L139.07,396.39L140,396.4L140.9,396.29L141.8,395.99L142.7,395.56L143.6,395.05L144.5,394.5L145.5,393.59L146.5,392.41L147.5,391.5L148.33,390.99L149.17,390.57L150,390.4L150.83,390.52L151.67,390.81L152.5,391.2L153.5,392.05L154.5,393.3L155.5,394.5L156.38,395.44L157.25,396.4L158.12,397.23L159,397.8L159.93,398.21L160.85,398.56L161.77,398.81L162.7,398.9L163.61,398.89L164.52,398.88L165.44,398.85L166.35,398.81L167.26,398.77L168.18,398.71L169.09,398.66L170,398.6L170.94,398.5L171.88,398.33L172.81,398.12L173.75,397.89L174.69,397.67L175.62,397.48L176.56,397.35L177.5,397.3L178.45,397.33L179.41,397.42L180.36,397.56L181.32,397.72L182.27,397.9L183.23,398.1L184.18,398.28L185.14,398.44L186.09,398.58L187.05,398.67L188,398.7L189,398.7L190,398.69L191,398.68L192,398.67L193,398.66L194,398.65L195,398.63L196,398.61L197,398.59L198,398.57L199,398.55L200,398.53L201,398.51L202,398.49L203,398.47L204,398.45L205,398.44L206,398.43L207,398.42L208,398.41L209,398.4L210,398.4L210.98,398.4L211.96,398.4L212.93,398.4L213.91,398.4L214.89,398.4L215.87,398.4L216.85,398.4L217.83,398.4L218.8,398.4L219.78,398.4L220.76,398.4L221.74,398.4L222.72,398.4L223.7,398.4L224.67,398.4L225.65,398.4L226.63,398.4L227.61,398.4L228.59,398.4L229.57,398.4L230.54,398.4L231.52,398.4L232.5,398.4" stroke="#4a9a3a" stroke-width="1.3" fill="none" stroke-linejoin="round"/>
<path d="M73,398.8L73.88,398.8L74.77,398.8L75.65,398.8L76.53,398.8L77.42,398.8L78.3,398.8L78.6,273.5L79.2,273.5L79.9,347.4L80.5,362.8L81.25,369.55L82,373.5L82.77,376.73L83.53,379.29L84.3,381.2L85.08,382.72L85.85,384L86.62,385.04L87.4,385.8L88.32,386.48L89.24,387.07L90.16,387.55L91.08,387.93L92,388.2L92.92,388.38L93.84,388.52L94.76,388.63L95.68,388.75L96.6,388.9L97.49,389.09L98.37,389.32L99.26,389.57L100.14,389.82L101.03,390.07L101.91,390.3L102.8,390.5L103.76,390.68L104.72,390.83L105.69,390.97L106.65,391.11L107.61,391.24L108.58,391.38L109.54,391.53L110.5,391.7L111.46,391.89L112.42,392.11L113.39,392.35L114.35,392.59L115.31,392.83L116.28,393.07L117.24,393.3L118.2,393.5L119.15,393.68L120.1,393.85L121.05,394.01L122,394.16L122.95,394.32L123.9,394.47L124.85,394.63L125.8,394.8L126.76,394.98L127.72,395.17L128.69,395.37L129.65,395.57L130.61,395.76L131.57,395.95L132.54,396.13L133.5,396.3L134.46,396.47L135.43,396.65L136.39,396.83L137.35,397.01L138.31,397.16L139.27,397.29L140.24,397.37L141.2,397.4L142.16,397.38L143.12,397.33L144.08,397.24L145.04,397.13L146,397L147,396.67L148,396.06L149,395.3L150,394.5L151,393.49L152,392.34L153,391.5L153.93,391.02L154.87,390.65L155.8,390.5L156.7,390.65L157.6,391.02L158.5,391.5L159.5,392.42L160.5,393.74L161.5,395L162.5,396.11L163.5,397.17L164.5,398L165.5,398.64L166.5,399L167.38,399.09L168.25,399.15L169.12,399.19L170,399.2L171,399.07L172,398.75L173,398.35L174,398L174.88,397.7L175.75,397.37L176.62,397.11L177.5,397L178.4,397.08L179.3,397.28L180.2,397.54L181.1,397.8L182,398L183,398.18L184,398.36L185,398.53L186,398.67L187,398.76L188,398.8L189,398.8L190,398.79L191,398.78L192,398.77L193,398.76L194,398.74L195,398.72L196,398.7L197,398.68L198,398.66L199,398.63L200,398.61L201,398.59L202,398.56L203,398.54L204,398.52L205,398.5L206,398.48L207,398.46L208,398.43L209,398.41L210,398.38L211,398.35L212,398.33L213,398.3L214,398.28L215,398.26L216,398.24L217,398.22L218,398.21L219,398.2L220,398.2L221,398.3L222,398.54L223,398.85L224,399.16L225,399.4L226,399.5L226.93,399.47L227.86,399.39L228.79,399.27L229.71,399.13L230.64,398.98L231.57,398.83L232.5,398.7" stroke="#14703a" stroke-width="1.4" fill="none" stroke-linejoin="round"/>
<path d="M78.8,398.8L78.9,273.5L79.3,273.6L79.9,347.4L80.5,362.8L81.25,369.55L82,373.5L82.77,376.73L83.53,379.29L84.3,381.2L85.08,382.72L85.85,384L86.62,385.04L87.4,385.8L88.32,386.44L89.24,386.94L90.16,387.36L91.08,387.76L92,388.2" stroke="#14703a" stroke-width="1.9" fill="none" stroke-linejoin="round"/>
</g>
<path d="M72.9,266V410M72.2,409.3H249.9" stroke="#1e1e1e" stroke-width="1.4" fill="none"/>
<path d="M69.3,398.5H72.9" stroke="#1e1e1e" stroke-width="1.1"/>
<text x="65.6" y="402" font-size="9.9" fill="#242424" stroke="#242424" stroke-width="0.12" text-anchor="end">0</text>
<path d="M69.3,377.62H72.9" stroke="#1e1e1e" stroke-width="1.1"/>
<text x="65.6" y="381.12" font-size="9.9" fill="#242424" stroke="#242424" stroke-width="0.12" text-anchor="end">100</text>
<path d="M69.3,356.75H72.9" stroke="#1e1e1e" stroke-width="1.1"/>
<text x="65.6" y="360.25" font-size="9.9" fill="#242424" stroke="#242424" stroke-width="0.12" text-anchor="end">200</text>
<path d="M69.3,335.88H72.9" stroke="#1e1e1e" stroke-width="1.1"/>
<text x="65.6" y="339.38" font-size="9.9" fill="#242424" stroke="#242424" stroke-width="0.12" text-anchor="end">300</text>
<path d="M69.3,315H72.9" stroke="#1e1e1e" stroke-width="1.1"/>
<text x="65.6" y="318.5" font-size="9.9" fill="#242424" stroke="#242424" stroke-width="0.12" text-anchor="end">400</text>
<path d="M69.3,294.12H72.9" stroke="#1e1e1e" stroke-width="1.1"/>
<text x="65.6" y="297.62" font-size="9.9" fill="#242424" stroke="#242424" stroke-width="0.12" text-anchor="end">500</text>
<path d="M69.3,273.25H72.9" stroke="#1e1e1e" stroke-width="1.1"/>
<text x="65.6" y="276.75" font-size="9.9" fill="#242424" stroke="#242424" stroke-width="0.12" text-anchor="end">600</text>
<path d="M70.7,388.06H72.9" stroke="#1e1e1e" stroke-width="0.9"/>
<path d="M70.7,367.19H72.9" stroke="#1e1e1e" stroke-width="0.9"/>
<path d="M70.7,346.31H72.9" stroke="#1e1e1e" stroke-width="0.9"/>
<path d="M70.7,325.44H72.9" stroke="#1e1e1e" stroke-width="0.9"/>
<path d="M70.7,304.56H72.9" stroke="#1e1e1e" stroke-width="0.9"/>
<path d="M70.7,283.69H72.9" stroke="#1e1e1e" stroke-width="0.9"/>
<path d="M72.9,409.3V413.2" stroke="#1e1e1e" stroke-width="1.1"/>
<text x="72.9" y="424.8" font-size="9.6" fill="#242424" stroke="#242424" stroke-width="0.12" text-anchor="middle">0</text>
<path d="M114.9,409.3V413.2" stroke="#1e1e1e" stroke-width="1.1"/>
<text x="114.9" y="424.8" font-size="9.6" fill="#242424" stroke="#242424" stroke-width="0.12" text-anchor="middle">1</text>
<path d="M156.9,409.3V413.2" stroke="#1e1e1e" stroke-width="1.1"/>
<text x="156.9" y="424.8" font-size="9.6" fill="#242424" stroke="#242424" stroke-width="0.12" text-anchor="middle">2</text>
<path d="M198.9,409.3V413.2" stroke="#1e1e1e" stroke-width="1.1"/>
<text x="198.9" y="424.8" font-size="9.6" fill="#242424" stroke="#242424" stroke-width="0.12" text-anchor="middle">3</text>
<path d="M240.9,409.3V413.2" stroke="#1e1e1e" stroke-width="1.1"/>
<text x="240.9" y="424.8" font-size="9.6" fill="#242424" stroke="#242424" stroke-width="0.12" text-anchor="middle">4</text>
<path d="M93.9,409.3V411.8" stroke="#1e1e1e" stroke-width="0.9"/>
<path d="M135.9,409.3V411.8" stroke="#1e1e1e" stroke-width="0.9"/>
<path d="M177.9,409.3V411.8" stroke="#1e1e1e" stroke-width="0.9"/>
<path d="M219.9,409.3V411.8" stroke="#1e1e1e" stroke-width="0.9"/>
<text transform="translate(41.4,337) rotate(-90)" font-size="10.8" fill="#242424" stroke="#242424" stroke-width="0.45" text-anchor="middle" word-spacing="1.2" textLength="51" lengthAdjust="spacingAndGlyphs">Thrombin (nM)</text>
<text transform="translate(160.9,439.6)" font-size="10.8" fill="#242424" stroke="#242424" stroke-width="0.45" text-anchor="middle" word-spacing="1.2" textLength="137" lengthAdjust="spacingAndGlyphs">Distance from TF-coated surface (mm)</text>
<path d="M198.9,277H209.4" stroke="#e33a32" stroke-width="1.3"/>
<text x="213.9" y="280.1" font-size="8.6" fill="#242424" stroke="#242424" stroke-width="0.12" text-anchor="start">0 min</text>
<path d="M198.9,289.17H209.4" stroke="#e4462a" stroke-width="1.3"/>
<text x="213.9" y="292.27" font-size="8.6" fill="#242424" stroke="#242424" stroke-width="0.12" text-anchor="start">7 min</text>
<path d="M198.9,301.34H209.4" stroke="#e8651f" stroke-width="1.3"/>
<text x="213.9" y="304.44" font-size="8.6" fill="#242424" stroke="#242424" stroke-width="0.12" text-anchor="start">14 min</text>
<path d="M198.9,313.51H209.4" stroke="#ee8c2a" stroke-width="1.3"/>
<text x="213.9" y="316.61" font-size="8.6" fill="#242424" stroke="#242424" stroke-width="0.12" text-anchor="start">21 min</text>
<path d="M198.9,325.68H209.4" stroke="#f2b23c" stroke-width="1.3"/>
<text x="213.9" y="328.78" font-size="8.6" fill="#242424" stroke="#242424" stroke-width="0.12" text-anchor="start">28 min</text>
<path d="M198.9,337.85H209.4" stroke="#f3cf45" stroke-width="1.3"/>
<text x="213.9" y="340.95" font-size="8.6" fill="#242424" stroke="#242424" stroke-width="0.12" text-anchor="start">35 min</text>
<path d="M198.9,350.02H209.4" stroke="#e6c934" stroke-width="1.3"/>
<text x="213.9" y="353.12" font-size="8.6" fill="#242424" stroke="#242424" stroke-width="0.12" text-anchor="start">42 min</text>
<path d="M198.9,362.19H209.4" stroke="#a9b838" stroke-width="1.3"/>
<text x="213.9" y="365.29" font-size="8.6" fill="#242424" stroke="#242424" stroke-width="0.12" text-anchor="start">49 min</text>
<path d="M198.9,374.36H209.4" stroke="#4a9a3a" stroke-width="1.3"/>
<text x="213.9" y="377.46" font-size="8.6" fill="#242424" stroke="#242424" stroke-width="0.12" text-anchor="start">56 min</text>
<path d="M198.9,386.53H209.4" stroke="#14703a" stroke-width="1.3"/>
<text x="213.9" y="389.63" font-size="8.6" fill="#242424" stroke="#242424" stroke-width="0.12" text-anchor="start">63 min</text>
<text x="395" y="259.8" font-size="10.6" fill="#242424" stroke="#242424" stroke-width="0.12" text-anchor="middle">0.48 pM FXIa</text>
<text x="267.6" y="250" font-size="14" fill="#000" stroke="#000" stroke-width="0.45" stroke-linejoin="round" text-anchor="start" font-weight="bold">E</text>
<g clip-path="url(#clipDE)">
<path d="M311.5,398.8L312.49,398.8L313.49,398.8L314.48,398.8L315.48,398.8L316.47,398.8L317.47,398.8L318.46,398.8L319.46,398.8L320.45,398.8L321.44,398.8L322.44,398.8L323.43,398.8L324.43,398.8L325.42,398.8L326.42,398.8L327.41,398.8L328.4,398.8L329.4,398.8L330.39,398.8L331.39,398.8L332.38,398.8L333.38,398.8L334.37,398.8L335.37,398.8L336.36,398.8L337.35,398.8L338.35,398.8L339.34,398.8L340.34,398.8L341.33,398.8L342.33,398.8L343.32,398.8L344.31,398.8L345.31,398.8L346.3,398.8L347.3,398.8L348.29,398.8L349.29,398.8L350.28,398.8L351.28,398.8L352.27,398.8L353.26,398.8L354.26,398.8L355.25,398.8L356.25,398.8L357.24,398.8L358.24,398.8L359.23,398.8L360.22,398.8L361.22,398.8L362.21,398.8L363.21,398.8L364.2,398.8L365.2,398.8L366.19,398.8L367.19,398.8L368.18,398.8L369.17,398.8L370.17,398.8L371.16,398.8L372.16,398.8L373.15,398.8L374.15,398.8L375.14,398.8L376.13,398.8L377.13,398.8L378.12,398.8L379.12,398.8L380.11,398.8L381.11,398.8L382.1,398.8L383.1,398.8L384.09,398.8L385.08,398.8L386.08,398.8L387.07,398.8L388.07,398.8L389.06,398.8L390.06,398.8L391.05,398.8L392.04,398.8L393.04,398.8L394.03,398.8L395.03,398.8L396.02,398.8L397.02,398.8L398.01,398.8L399.01,398.8L400,398.8L401,398.8L401.99,398.8L402.99,398.8L403.99,398.8L404.99,398.8L405.98,398.8L406.98,398.8L407.98,398.8L408.98,398.8L409.97,398.8L410.97,398.8L411.97,398.8L412.97,398.8L413.96,398.8L414.96,398.8L415.96,398.8L416.96,398.8L417.95,398.8L418.95,398.8L419.95,398.8L420.94,398.8L421.94,398.8L422.94,398.8L423.94,398.8L424.93,398.8L425.93,398.8L426.93,398.8L427.93,398.8L428.92,398.8L429.92,398.8L430.92,398.8L431.92,398.8L432.91,398.8L433.91,398.8L434.91,398.8L435.91,398.8L436.9,398.8L437.9,398.8L438.9,398.8L439.89,398.8L440.89,398.8L441.89,398.8L442.89,398.8L443.88,398.8L444.88,398.8L445.88,398.8L446.88,398.8L447.87,398.8L448.87,398.8L449.87,398.8L450.87,398.8L451.86,398.8L452.86,398.8L453.86,398.8L454.86,398.8L455.85,398.8L456.85,398.8L457.85,398.8L458.84,398.8L459.84,398.8L460.84,398.8L461.84,398.8L462.83,398.8L463.83,398.8L464.83,398.8L465.83,398.8L466.82,398.8L467.82,398.8L468.82,398.8L469.82,398.8L470.81,398.8L471.81,398.8L472.81,398.8L473.81,398.8L474.8,398.8L475.8,398.8" stroke="#e0303c" stroke-width="1.4" fill="none" stroke-linejoin="round"/>
<path d="M311.9,398.8L312.2,330L312.8,274.6L313.5,276.29L314.2,280.27L314.9,284.9L315.7,290.83L316.5,298.6L317.4,311.78L318.3,326.1L319.07,335.94L319.83,344.99L320.6,353.5L321.37,361.63L322.13,369.3L322.9,376.4L323.67,383.03L324.43,389.21L325.2,394.7L326.1,400.63L327,405L327.8,407.35L328.6,408.5L329.45,408.59L330.3,408.65L331.15,408.69L332,408.7L332.92,408.66L333.84,408.57L334.76,408.42L335.68,408.22L336.6,408L337.52,407.56L338.44,406.83L339.36,405.94L340.28,405.05L341.2,404.3L342.12,403.66L343.04,403.02L343.96,402.44L344.88,401.95L345.8,401.6L346.77,401.34L347.74,401.12L348.71,400.92L349.69,400.75L350.66,400.61L351.63,400.5L352.6,400.4L353.59,400.32L354.57,400.25L355.56,400.18L356.54,400.13L357.53,400.08L358.51,400.04L359.5,400L360.49,399.97L361.48,399.94L362.46,399.9L363.45,399.87L364.44,399.84L365.43,399.81L366.41,399.79L367.4,399.76L368.39,399.73L369.38,399.71L370.37,399.68L371.35,399.65L372.34,399.63L373.33,399.61L374.32,399.58L375.3,399.56L376.29,399.54L377.28,399.52L378.27,399.5L379.26,399.48L380.24,399.46L381.23,399.44L382.22,399.42L383.21,399.4L384.2,399.39L385.18,399.37L386.17,399.35L387.16,399.34L388.15,399.33L389.13,399.31L390.12,399.3L391.11,399.29L392.1,399.27L393.09,399.26L394.07,399.25L395.06,399.24L396.05,399.23L397.04,399.22L398.02,399.22L399.01,399.21L400,399.2L401,399.19L401.99,399.19L402.99,399.18L403.99,399.17L404.99,399.17L405.98,399.16L406.98,399.15L407.98,399.15L408.98,399.14L409.97,399.14L410.97,399.13L411.97,399.13L412.97,399.12L413.96,399.12L414.96,399.11L415.96,399.11L416.96,399.1L417.95,399.1L418.95,399.09L419.95,399.09L420.94,399.08L421.94,399.08L422.94,399.07L423.94,399.07L424.93,399.07L425.93,399.06L426.93,399.06L427.93,399.05L428.92,399.05L429.92,399.05L430.92,399.04L431.92,399.04L432.91,399.04L433.91,399.03L434.91,399.03L435.91,399.03L436.9,399.02L437.9,399.02L438.9,399.02L439.89,399.01L440.89,399.01L441.89,399.01L442.89,399.01L443.88,399L444.88,399L445.88,399L446.88,398.99L447.87,398.99L448.87,398.99L449.87,398.98L450.87,398.98L451.86,398.98L452.86,398.98L453.86,398.97L454.86,398.97L455.85,398.97L456.85,398.96L457.85,398.96L458.84,398.96L459.84,398.95L460.84,398.95L461.84,398.95L462.83,398.95L463.83,398.94L464.83,398.94L465.83,398.94L466.82,398.93L467.82,398.93L468.82,398.93L469.82,398.92L470.81,398.92L471.81,398.92L472.81,398.91L473.81,398.91L474.8,398.9L475.8,398.9" stroke="#e4462a" stroke-width="1.3" fill="none" stroke-linejoin="round"/>
<path d="M312.6,350.1L313.45,348.96L314.3,347.82L315.15,346.68L316,345.5L316.92,344.2L317.84,342.88L318.76,341.54L319.68,340.15L320.6,338.7L321.52,337.1L322.44,335.34L323.36,333.57L324.28,331.95L325.2,330.6L326.05,329.51L326.9,328.49L327.75,327.67L328.6,327.2L329.37,327L330.13,326.86L330.9,326.8L331.67,327.18L332.43,328.17L333.2,329.5L333.97,331.83L334.73,335.49L335.5,339.8L336.27,345.11L337.03,351.56L337.8,358.1L338.53,364.31L339.27,370.61L340,376.4L340.77,382.14L341.53,387.46L342.3,391.3L343.07,393.81L343.83,395.76L344.6,397L345.45,397.85L346.3,398.52L347.15,399L348,399.3L349,399.52L350,399.72L351,399.88L352,400.02L353,400.12L354,400.18L355,400.2L356,400.2L357,400.2L358,400.2L359,400.19L360,400.19L361,400.18L362,400.18L363,400.17L364,400.16L365,400.16L366,400.15L367,400.14L368,400.13L369,400.12L370,400.11L371,400.1L372,400.09L373,400.08L374,400.07L375,400.05L376,400.04L377,400.03L378,400.02L379,400.01L380,400L381,399.99L382,399.98L383,399.96L384,399.95L385,399.93L386,399.92L387,399.9L388,399.89L389,399.87L390,399.85L391,399.83L392,399.81L393,399.79L394,399.77L395,399.75L396,399.73L397,399.71L398,399.69L399,399.67L400,399.65L401,399.63L402,399.61L403,399.59L404,399.57L405,399.54L406,399.52L407,399.5L408,399.49L409,399.47L410,399.45L411,399.43L412,399.41L413,399.4L414,399.38L415,399.36L416,399.35L417,399.34L418,399.32L419,399.31L420,399.3L421,399.29L421.99,399.28L422.99,399.27L423.99,399.26L424.98,399.25L425.98,399.24L426.98,399.23L427.97,399.22L428.97,399.22L429.96,399.21L430.96,399.2L431.96,399.19L432.95,399.18L433.95,399.17L434.95,399.17L435.94,399.16L436.94,399.15L437.94,399.14L438.93,399.14L439.93,399.13L440.93,399.12L441.92,399.12L442.92,399.11L443.91,399.1L444.91,399.1L445.91,399.09L446.9,399.08L447.9,399.08L448.9,399.07L449.89,399.06L450.89,399.06L451.89,399.05L452.88,399.05L453.88,399.04L454.88,399.03L455.87,399.03L456.87,399.02L457.86,399.02L458.86,399.01L459.86,399L460.85,399L461.85,398.99L462.85,398.99L463.84,398.98L464.84,398.97L465.84,398.97L466.83,398.96L467.83,398.95L468.82,398.95L469.82,398.94L470.82,398.93L471.81,398.93L472.81,398.92L473.81,398.91L474.8,398.91L475.8,398.9" stroke="#e8651f" stroke-width="1.3" fill="none" stroke-linejoin="round"/>
<path d="M312.6,369.6L313.45,368.56L314.3,367.41L315.15,366.48L316,366.1L316.88,366.39L317.75,367.07L318.62,367.84L319.5,368.4L320.45,368.79L321.4,369.16L322.35,369.49L323.3,369.76L324.25,369.94L325.2,370L326.17,369.96L327.14,369.83L328.11,369.63L329.09,369.38L330.06,369.08L331.03,368.75L332,368.4L332.97,367.94L333.93,367.3L334.9,366.52L335.87,365.65L336.83,364.73L337.8,363.8L338.75,362.83L339.7,361.76L340.65,360.6L341.6,359.41L342.55,358.2L343.5,357L344.4,355.8L345.3,354.52L346.2,353.25L347.1,352.11L348,351.2L348.93,350.39L349.87,349.69L350.8,349.4L351.7,350.33L352.6,352.4L353.55,356.52L354.5,362.7L355.25,369.23L356,376.4L356.85,383.96L357.7,390.1L358.6,394.42L359.5,397L360.38,398.04L361.25,398.81L362.12,399.33L363,399.6L364,399.76L365,399.89L366,400L367,400.09L368,400.15L369,400.19L370,400.2L371,400.2L372,400.2L373,400.19L374,400.19L375,400.18L376,400.17L377,400.16L378,400.15L379,400.14L380,400.13L381,400.11L382,400.1L383,400.08L384,400.07L385,400.05L386,400.04L387,400.02L388,400L389,399.98L390,399.97L391,399.95L392,399.93L393,399.91L394,399.9L395,399.88L396,399.86L397,399.85L398,399.83L399,399.81L400,399.8L401,399.79L402,399.77L403,399.76L404,399.74L405,399.73L406,399.71L407,399.7L408,399.68L409,399.66L410,399.65L411,399.63L412,399.61L413,399.6L414,399.58L415,399.57L416,399.55L417,399.53L418,399.52L419,399.5L420,399.48L421,399.47L422,399.45L423,399.43L424,399.42L425,399.4L426,399.39L427,399.37L428,399.36L429,399.34L430,399.33L431,399.31L432,399.3L433,399.29L434,399.27L435,399.26L436,399.25L437,399.23L438,399.22L439,399.21L440,399.2L440.99,399.19L441.99,399.18L442.98,399.17L443.98,399.16L444.97,399.15L445.97,399.14L446.96,399.13L447.96,399.12L448.95,399.11L449.94,399.1L450.94,399.1L451.93,399.09L452.93,399.08L453.92,399.07L454.92,399.06L455.91,399.06L456.91,399.05L457.9,399.04L458.89,399.03L459.89,399.02L460.88,399.02L461.88,399.01L462.87,399L463.87,398.99L464.86,398.99L465.86,398.98L466.85,398.97L467.84,398.96L468.84,398.96L469.83,398.95L470.83,398.94L471.82,398.93L472.82,398.92L473.81,398.92L474.81,398.91L475.8,398.9" stroke="#ee8c2a" stroke-width="1.3" fill="none" stroke-linejoin="round"/>
<path d="M312.6,371L313.45,370.91L314.3,370.81L315.15,370.73L316,370.7L316.99,370.97L317.97,371.66L318.96,372.63L319.94,373.71L320.93,374.73L321.91,375.55L322.9,376L323.81,376.19L324.72,376.37L325.63,376.53L326.54,376.67L327.45,376.8L328.36,376.9L329.27,376.99L330.18,377.05L331.09,377.09L332,377.1L332.92,377.1L333.84,377.09L334.76,377.08L335.68,377.06L336.6,377.04L337.52,377.02L338.44,376.99L339.36,376.96L340.28,376.93L341.2,376.9L342.11,376.86L343.02,376.8L343.93,376.72L344.84,376.62L345.75,376.51L346.66,376.38L347.57,376.23L348.48,376.07L349.39,375.89L350.3,375.7L351.29,375.43L352.27,375.06L353.26,374.59L354.24,374.03L355.23,373.37L356.21,372.63L357.2,371.8L358.12,370.72L359.04,369.22L359.96,367.46L360.88,365.6L361.8,363.8L362.65,362L363.5,360.03L364.35,358.24L365.2,357L365.97,356.24L366.73,355.64L367.5,355.4L368.3,356.64L369.1,359.3L370,364.64L370.9,371.8L371.85,380.05L372.8,387.9L373.6,393.44L374.4,397L375.27,398.33L376.13,399.2L377,399.6L378,399.77L379,399.9L380,400.01L381,400.1L382,400.16L383,400.19L384,400.2L385,400.2L386,400.2L387,400.19L388,400.19L389,400.18L390,400.17L391,400.16L392,400.14L393,400.13L394,400.12L395,400.1L396,400.08L397,400.07L398,400.05L399,400.03L400,400.01L401,399.99L402,399.97L403,399.94L404,399.92L405,399.9L406,399.88L407,399.85L408,399.83L409,399.81L410,399.79L411,399.77L412,399.75L413,399.72L414,399.7L415,399.69L416,399.67L417,399.65L418,399.63L419,399.62L420,399.6L421,399.59L421.99,399.57L422.99,399.56L423.99,399.54L424.98,399.53L425.98,399.52L426.98,399.5L427.97,399.49L428.97,399.48L429.96,399.46L430.96,399.45L431.96,399.44L432.95,399.42L433.95,399.41L434.95,399.4L435.94,399.38L436.94,399.37L437.94,399.36L438.93,399.35L439.93,399.33L440.93,399.32L441.92,399.31L442.92,399.3L443.91,399.29L444.91,399.27L445.91,399.26L446.9,399.25L447.9,399.24L448.9,399.22L449.89,399.21L450.89,399.2L451.89,399.19L452.88,399.18L453.88,399.16L454.88,399.15L455.87,399.14L456.87,399.13L457.86,399.12L458.86,399.11L459.86,399.09L460.85,399.08L461.85,399.07L462.85,399.06L463.84,399.05L464.84,399.03L465.84,399.02L466.83,399.01L467.83,399L468.82,398.99L469.82,398.97L470.82,398.96L471.81,398.95L472.81,398.94L473.81,398.92L474.8,398.91L475.8,398.9" stroke="#f2b23c" stroke-width="1.3" fill="none" stroke-linejoin="round"/>
<path d="M312.6,372L313.45,371.85L314.3,371.69L315.15,371.55L316,371.5L316.99,371.81L317.97,372.62L318.96,373.75L319.94,375.03L320.93,376.28L321.91,377.33L322.9,378L323.85,378.4L324.8,378.77L325.75,379.12L326.7,379.44L327.65,379.74L328.6,380.01L329.55,380.25L330.5,380.46L331.45,380.64L332.4,380.79L333.35,380.91L334.3,381L335.26,381.07L336.22,381.14L337.18,381.2L338.13,381.26L339.09,381.31L340.05,381.36L341.01,381.4L341.97,381.43L342.93,381.46L343.88,381.48L344.84,381.5L345.8,381.5L346.75,381.5L347.7,381.48L348.65,381.46L349.6,381.44L350.55,381.41L351.5,381.36L352.45,381.32L353.4,381.27L354.35,381.21L355.3,381.14L356.25,381.07L357.2,381L358.12,380.89L359.04,380.71L359.96,380.48L360.88,380.19L361.8,379.85L362.72,379.46L363.64,379.04L364.56,378.58L365.48,378.1L366.4,377.6L367.37,376.96L368.34,376.15L369.31,375.2L370.29,374.15L371.26,373.02L372.23,371.86L373.2,370.7L374.15,369.47L375.1,368.07L376.05,366.61L377,365.16L377.95,363.83L378.9,362.7L379.82,361.65L380.75,360.61L381.68,359.82L382.6,359.5L383.43,360.2L384.27,361.97L385.1,364.3L385.87,367.75L386.63,372.78L387.4,378.2L388.3,385.46L389.2,392L390.15,396.83L391.1,399.4L392.08,399.76L393.05,400.01L394.02,400.15L395,400.2L396,400.2L397,400.2L398,400.19L399,400.18L400,400.17L401,400.16L402,400.15L403,400.13L404,400.11L405,400.09L406,400.07L407,400.05L408,400.03L409,400.01L410,399.98L411,399.96L412,399.93L413,399.91L414,399.88L415,399.85L416,399.83L417,399.8L418,399.77L419,399.75L420,399.72L421,399.69L422,399.67L423,399.64L424,399.62L425,399.6L426,399.58L427,399.55L428,399.54L429,399.52L430,399.5L431,399.48L431.99,399.47L432.99,399.45L433.98,399.44L434.98,399.42L435.97,399.41L436.97,399.39L437.97,399.38L438.96,399.37L439.96,399.35L440.95,399.34L441.95,399.32L442.94,399.31L443.94,399.3L444.93,399.28L445.93,399.27L446.93,399.26L447.92,399.25L448.92,399.23L449.91,399.22L450.91,399.21L451.9,399.2L452.9,399.18L453.9,399.17L454.89,399.16L455.89,399.15L456.88,399.13L457.88,399.12L458.87,399.11L459.87,399.1L460.87,399.09L461.86,399.07L462.86,399.06L463.85,399.05L464.85,399.04L465.84,399.03L466.84,399.01L467.83,399L468.83,398.99L469.83,398.98L470.82,398.96L471.82,398.95L472.81,398.94L473.81,398.93L474.8,398.91L475.8,398.9" stroke="#f3cf45" stroke-width="1.3" fill="none" stroke-linejoin="round"/>
<path d="M312.6,372L313.45,372L314.3,372L315.15,372L316,372L316.99,372.37L317.97,373.34L318.96,374.7L319.94,376.24L320.93,377.74L321.91,379L322.9,379.8L323.85,380.26L324.8,380.69L325.75,381.08L326.7,381.44L327.65,381.77L328.6,382.06L329.55,382.33L330.5,382.57L331.45,382.79L332.4,382.98L333.35,383.15L334.3,383.3L335.26,383.44L336.22,383.58L337.18,383.71L338.13,383.83L339.09,383.95L340.05,384.06L341.01,384.16L341.97,384.24L342.93,384.31L343.88,384.36L344.84,384.39L345.8,384.4L346.75,384.4L347.7,384.4L348.65,384.4L349.6,384.4L350.55,384.4L351.5,384.4L352.45,384.4L353.4,384.4L354.35,384.4L355.3,384.4L356.25,384.4L357.2,384.4L358.15,384.39L359.1,384.35L360.05,384.3L361,384.23L361.95,384.14L362.9,384.04L363.85,383.93L364.8,383.81L365.75,383.68L366.7,383.56L367.65,383.43L368.6,383.3L369.55,383.16L370.5,383.01L371.45,382.83L372.4,382.64L373.35,382.44L374.3,382.23L375.25,382.01L376.2,381.78L377.15,381.56L378.1,381.34L379.05,381.11L380,380.9L380.99,380.7L381.97,380.53L382.96,380.35L383.94,380.17L384.93,379.94L385.91,379.66L386.9,379.3L387.82,378.7L388.74,377.71L389.66,376.45L390.58,375.01L391.5,373.5L392.38,371.74L393.25,369.59L394.12,367.39L395,365.5L396,363.46L397,361.61L398,360.8L398.77,361.29L399.53,362.56L400.3,364.3L401.07,367.56L401.83,372.67L402.6,378.2L403.55,386.2L404.5,393.2L405.5,397.77L406.5,400L407.42,400.07L408.33,400.12L409.25,400.16L410.17,400.18L411.08,400.2L412,400.2L413,400.2L414,400.19L415,400.18L416,400.17L417,400.15L418,400.12L419,400.1L420,400.07L421,400.04L422,400.01L423,399.98L424,399.94L425,399.9L426,399.87L427,399.83L428,399.79L429,399.75L430,399.71L431,399.67L432,399.64L433,399.6L434,399.56L435,399.53L436,399.5L437,399.47L438,399.44L439,399.42L440,399.4L440.99,399.38L441.99,399.36L442.98,399.35L443.98,399.33L444.97,399.31L445.97,399.3L446.96,399.28L447.96,399.26L448.95,399.25L449.94,399.23L450.94,399.22L451.93,399.21L452.93,399.19L453.92,399.18L454.92,399.17L455.91,399.15L456.91,399.14L457.9,399.13L458.89,399.11L459.89,399.1L460.88,399.09L461.88,399.08L462.87,399.07L463.87,399.05L464.86,399.04L465.86,399.03L466.85,399.02L467.84,399L468.84,398.99L469.83,398.98L470.83,398.97L471.82,398.95L472.82,398.94L473.81,398.93L474.81,398.91L475.8,398.9" stroke="#e6c934" stroke-width="1.3" fill="none" stroke-linejoin="round"/>
<path d="M312.6,372L313.45,372.06L314.3,372.12L315.15,372.19L316,372.3L316.99,372.89L317.97,374.18L318.96,375.92L319.94,377.84L320.93,379.68L321.91,381.19L322.9,382.1L323.85,382.58L324.8,383.01L325.75,383.39L326.7,383.73L327.65,384.04L328.6,384.31L329.55,384.56L330.5,384.79L331.45,385.01L332.4,385.21L333.35,385.4L334.3,385.6L335.26,385.8L336.22,386.01L337.18,386.22L338.13,386.42L339.09,386.62L340.05,386.8L341.01,386.96L341.97,387.11L342.93,387.23L343.88,387.32L344.84,387.38L345.8,387.4L346.75,387.4L347.7,387.4L348.65,387.4L349.6,387.4L350.55,387.4L351.5,387.4L352.45,387.4L353.4,387.4L354.35,387.4L355.3,387.4L356.25,387.4L357.2,387.4L358.15,387.38L359.1,387.34L360.05,387.27L361,387.17L361.95,387.06L362.9,386.92L363.85,386.78L364.8,386.63L365.75,386.47L366.7,386.31L367.65,386.15L368.6,386L369.55,385.84L370.5,385.66L371.45,385.46L372.4,385.25L373.35,385.02L374.3,384.79L375.25,384.56L376.2,384.33L377.15,384.11L378.1,383.89L379.05,383.69L380,383.5L380.96,383.33L381.92,383.17L382.88,383.02L383.83,382.88L384.79,382.75L385.75,382.61L386.71,382.47L387.67,382.32L388.62,382.17L389.58,382L390.54,381.81L391.5,381.6L392.43,381.38L393.36,381.14L394.29,380.88L395.22,380.59L396.15,380.28L397.08,379.94L398.01,379.56L398.94,379.15L399.87,378.7L400.8,378.2L401.75,377.57L402.7,376.76L403.65,375.8L404.6,374.73L405.55,373.59L406.5,372.4L407.44,371.02L408.38,369.36L409.32,367.64L410.26,366.05L411.2,364.8L412.1,363.77L413,362.88L413.9,362.5L414.67,363.09L415.43,364.6L416.2,366.6L416.97,370.01L417.73,375.11L418.5,380.5L419.45,388.08L420.4,394.3L421.17,397.06L421.93,399.16L422.7,400L423.58,400L424.47,400L425.35,400L426.23,400L427.12,400L428,400L429,400L430,399.98L431,399.97L432,399.94L433,399.91L434,399.88L435,399.84L436,399.79L437,399.75L438,399.7L439,399.65L440,399.6L441,399.55L442,399.5L443,399.45L444,399.4L445,399.36L446,399.32L447,399.28L448,399.25L449,399.22L450,399.2L450.99,399.18L451.98,399.17L452.98,399.15L453.97,399.14L454.96,399.12L455.95,399.11L456.95,399.1L457.94,399.08L458.93,399.07L459.92,399.06L460.92,399.05L461.91,399.04L462.9,399.03L463.89,399.02L464.88,399.01L465.88,399L466.87,398.99L467.86,398.98L468.85,398.97L469.85,398.96L470.84,398.95L471.83,398.94L472.82,398.93L473.82,398.92L474.81,398.91L475.8,398.9" stroke="#a9b838" stroke-width="1.3" fill="none" stroke-linejoin="round"/>
<path d="M312.3,362L313.3,364L314.2,374.1L315.1,372.95L316,371.8L316.9,372.95L317.8,375L318.73,377.21L319.67,379.62L320.6,381.5L321.37,382.57L322.13,383.44L322.9,384L323.85,384.42L324.8,384.79L325.75,385.11L326.7,385.38L327.65,385.62L328.6,385.83L329.55,386.02L330.5,386.19L331.45,386.36L332.4,386.53L333.35,386.71L334.3,386.9L335.26,387.11L336.22,387.31L337.18,387.52L338.13,387.73L339.09,387.93L340.05,388.12L341.01,388.31L341.97,388.48L342.93,388.64L343.88,388.78L344.84,388.9L345.8,389L346.75,389.09L347.7,389.17L348.65,389.26L349.6,389.34L350.55,389.41L351.5,389.48L352.45,389.54L353.4,389.6L354.35,389.64L355.3,389.67L356.25,389.69L357.2,389.7L358.15,389.69L359.1,389.66L360.05,389.62L361,389.56L361.95,389.49L362.9,389.4L363.85,389.31L364.8,389.21L365.75,389.11L366.7,389.01L367.65,388.9L368.6,388.8L369.55,388.69L370.5,388.56L371.45,388.41L372.4,388.25L373.35,388.07L374.3,387.9L375.25,387.72L376.2,387.54L377.15,387.37L378.1,387.2L379.05,387.04L380,386.9L380.96,386.77L381.92,386.65L382.88,386.54L383.83,386.43L384.79,386.32L385.75,386.22L386.71,386.11L387.67,386L388.62,385.89L389.58,385.77L390.54,385.64L391.5,385.5L392.46,385.35L393.42,385.19L394.38,385.02L395.33,384.83L396.29,384.65L397.25,384.45L398.21,384.25L399.17,384.05L400.12,383.84L401.08,383.63L402.04,383.41L403,383.2L403.93,383L404.86,382.8L405.79,382.61L406.72,382.41L407.65,382.2L408.58,381.98L409.51,381.75L410.44,381.49L411.37,381.21L412.3,380.9L413.29,380.53L414.27,380.1L415.26,379.62L416.24,379.07L417.23,378.45L418.21,377.76L419.2,377L420.17,376L421.13,374.67L422.1,373.15L423.07,371.58L424.03,370.12L425,368.9L425.88,367.87L426.75,366.82L427.62,366.02L428.5,365.7L429.27,366.16L430.03,367.33L430.8,368.9L431.57,371.72L432.33,376L433.1,380.5L433.87,385.35L434.63,390.46L435.4,394.3L436.17,396.97L436.93,399.12L437.7,400L438.58,400L439.47,400L440.35,400L441.23,400L442.12,400L443,400L444,399.99L445,399.97L446,399.95L447,399.91L448,399.86L449,399.81L450,399.75L451,399.69L452,399.63L453,399.56L454,399.5L455,399.43L456,399.37L457,399.32L458,399.27L459,399.23L460,399.2L460.99,399.17L461.98,399.15L462.96,399.13L463.95,399.11L464.94,399.09L465.93,399.07L466.91,399.05L467.9,399.03L468.89,399.02L469.88,399L470.86,398.99L471.85,398.97L472.84,398.95L473.82,398.94L474.81,398.92L475.8,398.9" stroke="#4a9a3a" stroke-width="1.4" fill="none" stroke-linejoin="round"/>
<path d="M307.5,398.8L308.34,398.8L309.18,398.8L310.02,398.8L310.86,398.8L311.7,398.8L312,361.5L312.65,362.13L313.3,363.8L314.2,374.1L315.1,372.75L316,371.4L316.9,372.55L317.8,374.6L318.73,376.71L319.67,379.01L320.6,381L321.37,382.4L322.13,383.64L322.9,384.4L323.85,384.86L324.8,385.25L325.75,385.58L326.7,385.86L327.65,386.1L328.6,386.3L329.55,386.48L330.5,386.65L331.45,386.82L332.4,386.99L333.35,387.18L334.3,387.4L335.26,387.64L336.22,387.89L337.18,388.14L338.13,388.4L339.09,388.65L340.05,388.9L341.01,389.14L341.97,389.36L342.93,389.58L343.88,389.77L344.84,389.95L345.8,390.1L346.75,390.24L347.7,390.38L348.65,390.52L349.6,390.66L350.55,390.79L351.5,390.91L352.45,391.02L353.4,391.11L354.35,391.19L355.3,391.25L356.25,391.29L357.2,391.3L358.15,391.3L359.1,391.3L360.05,391.3L361,391.3L361.95,391.3L362.9,391.3L363.85,391.3L364.8,391.3L365.75,391.3L366.7,391.3L367.65,391.3L368.6,391.3L369.55,391.26L370.5,391.16L371.45,390.99L372.4,390.78L373.35,390.54L374.3,390.27L375.25,389.99L376.2,389.71L377.15,389.44L378.1,389.19L379.05,388.97L380,388.8L380.96,388.66L381.92,388.53L382.88,388.4L383.83,388.29L384.79,388.18L385.75,388.08L386.71,387.97L387.67,387.87L388.62,387.76L389.58,387.65L390.54,387.53L391.5,387.4L392.46,387.26L393.42,387.13L394.38,386.99L395.33,386.84L396.29,386.7L397.25,386.55L398.21,386.39L399.17,386.23L400.12,386.06L401.08,385.88L402.04,385.69L403,385.5L403.97,385.27L404.93,385L405.9,384.69L406.87,384.36L407.83,384.01L408.8,383.67L409.77,383.34L410.73,383.04L411.7,382.77L412.67,382.55L413.63,382.39L414.6,382.3L415.59,382.25L416.57,382.21L417.56,382.17L418.54,382.14L419.53,382.12L420.51,382.11L421.5,382.1L422.47,382.23L423.43,382.57L424.4,383L425.37,383.43L426.33,383.77L427.3,383.9L428.27,383.77L429.23,383.42L430.2,382.91L431.17,382.28L432.13,381.59L433.1,380.9L434.05,380.15L435,379.25L435.95,378.22L436.9,377.1L437.85,375.92L438.8,374.7L439.8,373.12L440.8,371.25L441.8,369.56L442.8,368.5L443.57,368.06L444.33,367.73L445.1,367.6L445.87,368.49L446.63,370.7L447.4,373.5L448.3,378.74L449.2,385.1L450.15,391.72L451.1,396.6L451.87,398.44L452.63,399.78L453.4,400.3L454.38,400.23L455.35,400.04L456.32,399.81L457.3,399.6L458.18,399.4L459.05,399.17L459.93,398.98L460.8,398.9L461.72,398.97L462.64,399.15L463.56,399.35L464.48,399.53L465.4,399.6L466.32,399.53L467.24,399.35L468.16,399.15L469.08,398.97L470,398.9L470.97,398.9L471.93,398.9L472.9,398.9L473.87,398.9L474.83,398.9L475.8,398.9" stroke="#14703a" stroke-width="1.5" fill="none" stroke-linejoin="round"/>
<path d="M392,399.6L393,399.59L394,399.58L395,399.57L396,399.55L397,399.54L398,399.53L399,399.52L400,399.51L401,399.49L402,399.48L403,399.47L404,399.46L405,399.44L406,399.43L407,399.42L408,399.41L409,399.4L410,399.38L411,399.37L412,399.36L413,399.35L414,399.34L415,399.34L416,399.33L417,399.32L418,399.31L419,399.31L420,399.3L421,399.29L422,399.29L423,399.29L424,399.28L425,399.28L426,399.27L427,399.27L428,399.26L429,399.26L430,399.26L431,399.25L432,399.25L433,399.25L434,399.25L435,399.24L436,399.24L437,399.24L438,399.23L439,399.23L440,399.23L441,399.22L442,399.22L443,399.22L444,399.22L445,399.21L446,399.21L447,399.21L448,399.2L449,399.2" stroke="#c4c03c" stroke-width="1.2" fill="none" stroke-linejoin="round"/>
<path d="M458,399.3L459,399.31L460,399.33L461,399.35L462,399.36L463,399.38L464,399.39L465,399.4L466,399.4L466.98,399.39L467.96,399.36L468.94,399.32L469.92,399.27L470.9,399.21L471.88,399.15L472.86,399.08L473.84,399.02L474.82,398.95L475.8,398.9" stroke="#b5bb40" stroke-width="1.2" fill="none" stroke-linejoin="round"/>
</g>
<path d="M307.5,266V410M306.8,409.3H484.5" stroke="#1e1e1e" stroke-width="1.4" fill="none"/>
<path d="M303.9,398.5H307.5" stroke="#1e1e1e" stroke-width="1.1"/>
<text x="300.2" y="402" font-size="9.9" fill="#242424" stroke="#242424" stroke-width="0.12" text-anchor="end">0</text>
<path d="M303.9,377.62H307.5" stroke="#1e1e1e" stroke-width="1.1"/>
<text x="300.2" y="381.12" font-size="9.9" fill="#242424" stroke="#242424" stroke-width="0.12" text-anchor="end">100</text>
<path d="M303.9,356.75H307.5" stroke="#1e1e1e" stroke-width="1.1"/>
<text x="300.2" y="360.25" font-size="9.9" fill="#242424" stroke="#242424" stroke-width="0.12" text-anchor="end">200</text>
<path d="M303.9,335.88H307.5" stroke="#1e1e1e" stroke-width="1.1"/>
<text x="300.2" y="339.38" font-size="9.9" fill="#242424" stroke="#242424" stroke-width="0.12" text-anchor="end">300</text>
<path d="M303.9,315H307.5" stroke="#1e1e1e" stroke-width="1.1"/>
<text x="300.2" y="318.5" font-size="9.9" fill="#242424" stroke="#242424" stroke-width="0.12" text-anchor="end">400</text>
<path d="M303.9,294.12H307.5" stroke="#1e1e1e" stroke-width="1.1"/>
<text x="300.2" y="297.62" font-size="9.9" fill="#242424" stroke="#242424" stroke-width="0.12" text-anchor="end">500</text>
<path d="M303.9,273.25H307.5" stroke="#1e1e1e" stroke-width="1.1"/>
<text x="300.2" y="276.75" font-size="9.9" fill="#242424" stroke="#242424" stroke-width="0.12" text-anchor="end">600</text>
<path d="M305.3,388.06H307.5" stroke="#1e1e1e" stroke-width="0.9"/>
<path d="M305.3,367.19H307.5" stroke="#1e1e1e" stroke-width="0.9"/>
<path d="M305.3,346.31H307.5" stroke="#1e1e1e" stroke-width="0.9"/>
<path d="M305.3,325.44H307.5" stroke="#1e1e1e" stroke-width="0.9"/>
<path d="M305.3,304.56H307.5" stroke="#1e1e1e" stroke-width="0.9"/>
<path d="M305.3,283.69H307.5" stroke="#1e1e1e" stroke-width="0.9"/>
<path d="M307.5,409.3V413.2" stroke="#1e1e1e" stroke-width="1.1"/>
<text x="307.5" y="424.8" font-size="9.6" fill="#242424" stroke="#242424" stroke-width="0.12" text-anchor="middle">0</text>
<path d="M349.5,409.3V413.2" stroke="#1e1e1e" stroke-width="1.1"/>
<text x="349.5" y="424.8" font-size="9.6" fill="#242424" stroke="#242424" stroke-width="0.12" text-anchor="middle">1</text>
<path d="M391.5,409.3V413.2" stroke="#1e1e1e" stroke-width="1.1"/>
<text x="391.5" y="424.8" font-size="9.6" fill="#242424" stroke="#242424" stroke-width="0.12" text-anchor="middle">2</text>
<path d="M433.5,409.3V413.2" stroke="#1e1e1e" stroke-width="1.1"/>
<text x="433.5" y="424.8" font-size="9.6" fill="#242424" stroke="#242424" stroke-width="0.12" text-anchor="middle">3</text>
<path d="M475.5,409.3V413.2" stroke="#1e1e1e" stroke-width="1.1"/>
<text x="475.5" y="424.8" font-size="9.6" fill="#242424" stroke="#242424" stroke-width="0.12" text-anchor="middle">4</text>
<path d="M328.5,409.3V411.8" stroke="#1e1e1e" stroke-width="0.9"/>
<path d="M370.5,409.3V411.8" stroke="#1e1e1e" stroke-width="0.9"/>
<path d="M412.5,409.3V411.8" stroke="#1e1e1e" stroke-width="0.9"/>
<path d="M454.5,409.3V411.8" stroke="#1e1e1e" stroke-width="0.9"/>
<text transform="translate(276,337) rotate(-90)" font-size="10.8" fill="#242424" stroke="#242424" stroke-width="0.45" text-anchor="middle" word-spacing="1.2" textLength="51" lengthAdjust="spacingAndGlyphs">Thrombin (nM)</text>
<text transform="translate(395.5,439.6)" font-size="10.8" fill="#242424" stroke="#242424" stroke-width="0.45" text-anchor="middle" word-spacing="1.2" textLength="137" lengthAdjust="spacingAndGlyphs">Distance from TF-coated surface (mm)</text>
<text x="31.5" y="466" font-size="14" fill="#000" stroke="#000" stroke-width="0.45" stroke-linejoin="round" text-anchor="start" font-weight="bold">F</text>
<g clip-path="url(#clipF)">
<path d="M75.02,467.89L75.08,470.74L75.18,473.64L75.31,479.46L75.47,486.28L75.65,491.05L75.84,496.02L76.06,498.55L76.29,501.15L76.53,501.67L76.79,507.19L77.06,512.81L77.35,513.33L77.64,517.66L77.95,517.75L78.27,520.11L78.6,522.79L78.94,522.13L79.29,525.11L79.65,525.08L80.02,524.31L80.4,528.19L80.79,527.57L81.18,529.37L81.59,531.49L82.01,532.69L82.43,531.87L82.86,533.44L83.3,534.37L83.75,535.03L84.2,536.12L84.66,539.11L85.13,538.61L85.61,538.97L86.1,538.79L86.59,541.4L87.09,540.18L87.59,538.52L88.11,538.84L88.63,543.5L89.15,542.49L89.69,542.95L90.23,545.79L90.77,546.83L91.33,544.32L91.88,546.3L92.45,547.75L93.02,548.96L93.6,549.8L94.18,547.44L94.77,550.84L95.37,550.11L95.97,551.44L96.57,550.62L97.19,552.07L97.81,550.22L98.43,550.99L99.06,552.49L99.7,552.42L100.34,552.11L100.98,553.43L101.63,554.16L102.29,552.25L102.95,553.45L103.62,555.3L104.29,555.88L104.97,555.55L105.65,554.43L106.34,558.65L107.04,559.36L107.73,558.11L108.44,558.98L109.15,559.15L109.86,560.48L110.58,563.59L111.3,560.78L112.03,563.38L112.76,565.44L113.5,565.13L114.24,565.38L114.99,568.37L115.74,567.66L116.5,567.53L117.26,569.43L118.02,566.93L118.79,569.23L119.57,566.31L120.35,564.12L121.13,567.08L121.92,567.4L122.71,567.6L123.51,565.5L124.31,565.94L125.12,566.87L125.93,567.49L126.74,565.45L127.56,566.19L128.38,567.29L129.21,568.76L130.04,568.33L130.88,567.38L131.72,569.44L132.56,568.78L133.41,572.57L134.26,571.03L135.12,572.55L135.98,573.14L136.84,573.76L137.71,569.81L138.58,570.27L139.46,573.06L140.34,570.63L141.23,569.56L142.11,571.62L143.01,570.88L143.9,569.81L144.8,571.92L145.71,573.12L146.62,572.55L147.53,572.69L148.44,574.3L149.36,571.41L150.29,575.85L151.22,572.8L152.15,576.78L153.08,575.75L154.02,577.77L154.96,575.69L155.91,576.47L156.86,576.05L157.81,575.57L158.77,575.33L159.73,576.4L160.69,574.06L161.66,573.03L162.63,573.05L163.61,576.09L164.59,574.4L165.57,577.76L166.56,578.55L167.54,576.39L168.54,577.38L169.53,578.38L170.53,578.9L171.54,578.32L172.54,581.28L173.56,579.95L174.57,579.92L175.59,578.16L176.61,578.71L177.63,577.1L178.66,578.37L179.69,577.57L180.73,576.13L181.76,577.29L182.81,580.26L183.85,578.67L184.9,577.72L185.95,579.97L187,578.48L188.06,579.39L189.12,581.19L190.19,580.29L191.26,581.64L192.33,583.45L193.4,583.33L194.48,581.99L195.56,581.2L196.65,580.46L197.73,578.84L198.82,578.18L199.92,579.46L201.01,582.62L202.12,582.91L203.22,580.6L204.33,580.99L205.44,581.53L206.55,582.34L207.66,584.02L208.78,584.93L209.91,583.71L211.03,583.67L212.16,583.79L213.29,583.22L214.43,585.1L215.57,582.64L216.71,580.63L217.85,579.64L219,581.72L220.15,582.49L221.3,581.37L222.46,581.51L223.62,584.86L224.78,587.21L225.94,586.52L227.11,586.67L228.28,585.09L229.46,583.02L230.64,587.48L231.82,584.03L233,584.62L233,592.4L231.82,590.89L230.64,594.42L229.46,592.31L228.28,593.07L227.11,593.05L225.94,593.82L224.78,592.67L223.62,592.05L222.46,589.88L221.3,588.95L220.15,588.6L219,588.31L217.85,586.62L216.71,586.85L215.57,590.05L214.43,589.56L213.29,590.18L212.16,591.45L211.03,590.46L209.91,591.89L208.78,592.22L207.66,589.67L206.55,588.57L205.44,588.05L204.33,589.85L203.22,587.72L202.12,587.58L201.01,586.93L199.92,586.36L198.82,585.1L197.73,586.95L196.65,587.1L195.56,588.1L194.48,589.52L193.4,590.23L192.33,589.71L191.26,589L190.19,588.8L189.12,589.15L188.06,588.11L187,585.62L185.95,587.24L184.9,586.33L183.85,587.99L182.81,586.06L181.76,584.71L180.73,583.13L179.69,583.15L178.66,585.23L177.63,584.8L176.61,582.71L175.59,587.94L174.57,584.53L173.56,587.09L172.54,585.35L171.54,585.89L170.53,584.5L169.53,587.35L168.54,583.27L167.54,583.01L166.56,585.22L165.57,584.56L164.59,584.38L163.61,583.83L162.63,582.43L161.66,580.25L160.69,582.29L159.73,582.75L158.77,582.05L157.81,582.37L156.86,582.14L155.91,582.82L154.96,581.49L154.02,582.68L153.08,582.35L152.15,583.04L151.22,581.02L150.29,581.25L149.36,579L148.44,581.05L147.53,580.23L146.62,580.16L145.71,580.03L144.8,578.97L143.9,577.06L143.01,578L142.11,579.32L141.23,577.87L140.34,578.82L139.46,579.1L138.58,578.72L137.71,578.55L136.84,579.52L135.98,580.48L135.12,579L134.26,576.27L133.41,579.45L132.56,576.41L131.72,576.74L130.88,577.61L130.04,575.01L129.21,577.54L128.38,574.6L127.56,575.45L126.74,573.36L125.93,572.97L125.12,573.86L124.31,573.49L123.51,572.88L122.71,573.2L121.92,574.96L121.13,572.79L120.35,573.26L119.57,574.21L118.79,575.02L118.02,574.08L117.26,574.93L116.5,574.79L115.74,573.72L114.99,572.19L114.24,575.13L113.5,572.46L112.76,570.59L112.03,568.38L111.3,569.64L110.58,569.24L109.86,567.28L109.15,568.56L108.44,565.42L107.73,566.18L107.04,566.53L106.34,565.49L105.65,561.95L104.97,563.14L104.29,563.08L103.62,561.64L102.95,560.44L102.29,559.57L101.63,563.26L100.98,561.01L100.34,559.71L99.7,560.05L99.06,561.43L98.43,560.36L97.81,559.34L97.19,557.68L96.57,557.7L95.97,557.18L95.37,559.14L94.77,554.9L94.18,555.56L93.6,557.59L93.02,555.67L92.45,552.95L91.88,550.52L91.33,550.87L90.77,553.01L90.23,552.35L89.69,551.32L89.15,549.21L88.63,547.45L88.11,547.43L87.59,545.91L87.09,545.16L86.59,548.53L86.1,547.23L85.61,547.31L85.13,544.98L84.66,543.13L84.2,543.39L83.75,542.65L83.3,543L82.86,540.69L82.43,541.46L82.01,538.34L81.59,537.62L81.18,535.04L80.79,534.4L80.4,532.85L80.02,533.72L79.65,529.77L79.29,531L78.94,530.6L78.6,526.97L78.27,528.22L77.95,525.24L77.64,522.91L77.35,522.14L77.06,520.68L76.79,514.67L76.53,509.84L76.29,506.31L76.06,502.88L75.84,500.08L75.65,500.11L75.47,492.28L75.31,484.29L75.18,482.02L75.08,476.87L75.02,476.15Z" fill="#c9c9c9" stroke="none" opacity="0.8"/>
<path d="M75.02,469.46L75.08,470.51L75.18,475.59L75.31,478.53L75.47,483.72L75.65,489.54L75.84,493.38L76.06,495.93L76.29,498.84L76.53,500.09L76.79,504.38L77.06,507.87L77.35,511.69L77.64,512.61L77.95,516.69L78.27,518.63L78.6,518.54L78.94,521.42L79.29,522.53L79.65,521.92L80.02,524.37L80.4,525.96L80.79,524.79L81.18,526.82L81.59,528.75L82.01,527.65L82.43,530.73L82.86,531.75L83.3,531.61L83.75,532.95L84.2,532.93L84.66,535.6L85.13,534.5L85.61,537.4L86.1,538.22L86.59,536.85L87.09,539.64L87.59,540.01L88.11,539.79L88.63,541.61L89.15,541.49L89.69,541.61L90.23,542.55L90.77,542.56L91.33,542.73L91.88,544.58L92.45,546.12L93.02,544.68L93.6,548.25L94.18,546.55L94.77,549.32L95.37,548.89L95.97,548.72L96.57,551.03L97.19,550.75L97.81,550.52L98.43,551.49L99.06,550.77L99.7,551.61L100.34,551.05L100.98,550.98L101.63,551.6L102.29,552.62L102.95,552.09L103.62,555.32L104.29,553.62L104.97,555.6L105.65,556.47L106.34,555.88L107.04,557.31L107.73,558.7L108.44,557.19L109.15,559.18L109.86,560.28L110.58,559.77L111.3,561.27L112.03,561.92L112.76,562.58L113.5,563.22L114.24,564.93L114.99,564.22L115.74,565.46L116.5,563.04L117.26,565.87L118.02,565.11L118.79,564.44L119.57,565.26L120.35,565.35L121.13,566.02L121.92,566.93L122.71,565.15L123.51,566.52L124.31,568.37L125.12,566.3L125.93,566.81L126.74,569.37L127.56,569.27L128.38,568.37L129.21,568.31L130.04,570.24L130.88,570.95L131.72,568.62L132.56,571.45L133.41,570.31L134.26,570.71L135.12,569.75L135.98,569.06L136.84,570.78L137.71,568.91L138.58,569.34L139.46,569.6L140.34,572.13L141.23,571.14L142.11,571.6L143.01,571.84L143.9,571.79L144.8,571.75L145.71,572.15L146.62,573.44L147.53,574.03L148.44,574.55L149.36,576.07L150.29,573.58L151.22,573.95L152.15,573.99L153.08,575.53L154.02,574.93L154.96,575.48L155.91,574.72L156.86,575.48L157.81,574.74L158.77,574.21L159.73,574.71L160.69,573.83L161.66,575.55L162.63,575.89L163.61,576.25L164.59,575.44L165.57,576.47L166.56,578.7L167.54,578.14L168.54,578.53L169.53,579.46L170.53,580.2L171.54,577.47L172.54,577.93L173.56,577.97L174.57,578.33L175.59,577.15L176.61,579.31L177.63,578.06L178.66,579.09L179.69,580.74L180.73,579.4L181.76,578.78L182.81,579.1L183.85,579.92L184.9,581.67L185.95,581.11L187,580.88L188.06,581.6L189.12,580.02L190.19,581.69L191.26,582.75L192.33,581.16L193.4,582.49L194.48,581.05L195.56,580.28L196.65,580.37L197.73,581.32L198.82,580.98L199.92,583.09L201.01,583.35L202.12,583.98L203.22,584.15L204.33,582.95L205.44,584.64L206.55,583.01L207.66,584.4L208.78,583.8L209.91,583.84L211.03,583.37L212.16,583.32L213.29,583.93L214.43,582.13L215.57,583.78L216.71,583.32L217.85,582.95L219,584.26L220.15,585.17L221.3,585.52L222.46,584.77L223.62,584.64L224.78,586.77L225.94,585.75L227.11,585.87L228.28,585.95L229.46,585.41L230.64,585.85L231.82,585.9L233,585.55L233,591.54L231.82,591.72L230.64,589.77L229.46,592.12L228.28,589.75L227.11,590.33L225.94,591.46L224.78,590.37L223.62,590.04L222.46,591.36L221.3,591L220.15,590.3L219,587.8L217.85,589.04L216.71,587.4L215.57,588.33L214.43,588.98L213.29,588.39L212.16,588.49L211.03,589.94L209.91,590.09L208.78,590.3L207.66,590.25L206.55,589.47L205.44,590.52L204.33,590.63L203.22,589.01L202.12,589.41L201.01,588.81L199.92,587.47L198.82,586.21L197.73,585.92L196.65,587.26L195.56,585.12L194.48,586.46L193.4,587.55L192.33,586.23L191.26,586.21L190.19,588.7L189.12,586.89L188.06,587.02L187,586.01L185.95,585.99L184.9,587.12L183.85,585.75L182.81,586.6L181.76,583.25L180.73,585.87L179.69,585.88L178.66,584.26L177.63,585.27L176.61,583.63L175.59,582.34L174.57,583.43L173.56,584.55L172.54,583.32L171.54,584.2L170.53,585.46L169.53,583.98L168.54,584.44L167.54,583.19L166.56,581.88L165.57,581.95L164.59,582.44L163.61,579.91L162.63,581.09L161.66,582.12L160.69,579.85L159.73,581.31L158.77,580.72L157.81,579.75L156.86,581.07L155.91,579.19L154.96,580.35L154.02,579.57L153.08,579.81L152.15,578.83L151.22,579.59L150.29,578.81L149.36,581.84L148.44,578.87L147.53,580.42L146.62,579.25L145.71,576.74L144.8,579.47L143.9,577.44L143.01,577.26L142.11,575.82L141.23,577.15L140.34,576.98L139.46,574.46L138.58,574.74L137.71,575.56L136.84,575.15L135.98,575.58L135.12,574.46L134.26,576.82L133.41,574.99L132.56,575.04L131.72,575.13L130.88,576.54L130.04,574.88L129.21,575.19L128.38,573.53L127.56,573.21L126.74,573.05L125.93,573.28L125.12,571.32L124.31,571.65L123.51,572.26L122.71,571.82L121.92,572.06L121.13,571.5L120.35,570.24L119.57,570.33L118.79,571.86L118.02,570.49L117.26,571.42L116.5,569.65L115.74,570.39L114.99,569.66L114.24,569.65L113.5,567.53L112.76,567.05L112.03,567.33L111.3,567.48L110.58,565.52L109.86,566.73L109.15,564L108.44,562.25L107.73,563.55L107.04,561.79L106.34,562.88L105.65,562.13L104.97,559.09L104.29,560.3L103.62,559.26L102.95,559.13L102.29,558.06L101.63,558.91L100.98,555.51L100.34,556.07L99.7,557.32L99.06,557.06L98.43,556.62L97.81,554.27L97.19,555.95L96.57,554.47L95.97,555.35L95.37,552.19L94.77,554.01L94.18,551.95L93.6,552.58L93.02,550.97L92.45,550.29L91.88,551.27L91.33,549.64L90.77,549.58L90.23,549.18L89.69,548.58L89.15,546.9L88.63,547.74L88.11,545.87L87.59,543.91L87.09,544.67L86.59,542.13L86.1,541.32L85.61,541.69L85.13,541.46L84.66,541.08L84.2,538.68L83.75,537.57L83.3,537.83L82.86,535.96L82.43,535.33L82.01,533.35L81.59,533.32L81.18,532.78L80.79,532.4L80.4,530.82L80.02,529.92L79.65,527.18L79.29,526.21L78.94,524.85L78.6,523.82L78.27,523.01L77.95,521.93L77.64,518.86L77.35,516.68L77.06,513.25L76.79,508.86L76.53,506.46L76.29,502.02L76.06,501.49L75.84,498.31L75.65,495.47L75.47,488.02L75.31,483.98L75.18,478.51L75.08,478.21L75.02,474.63Z" fill="#a8d4ee" stroke="none" opacity="0.8"/>
<path d="M75.02,469.8L75.08,471.6L75.18,473.12L75.31,476.54L75.47,476.9L75.65,481.85L75.84,484.61L76.06,488.62L76.29,493.37L76.53,496.01L76.79,495.62L77.06,498.96L77.35,501.55L77.64,504.5L77.95,507.36L78.27,508.03L78.6,507.51L78.94,510.9L79.29,511.43L79.65,514.72L80.02,515.04L80.4,516.46L80.79,515.69L81.18,516.43L81.59,519.23L82.01,518.24L82.43,519.32L82.86,521.46L83.3,521.32L83.75,522.06L84.2,521.87L84.66,521.57L85.13,523.96L85.61,523.76L86.1,524.77L86.59,526L87.09,524.26L87.59,525.02L88.11,525.91L88.63,524.65L89.15,526.97L89.69,528.06L90.23,529.58L90.77,531.53L91.33,532.39L91.88,534.31L92.45,535.14L93.02,534.86L93.6,538.12L94.18,539.53L94.77,539.19L95.37,541.33L95.97,540.17L96.57,541.88L97.19,542.48L97.81,543.35L98.43,543.01L99.06,544.94L99.7,543.38L100.34,546.34L100.98,546.71L101.63,546.76L102.29,546.97L102.95,548.24L103.62,548.37L104.29,547.79L104.97,546.57L105.65,548.06L106.34,548.26L107.04,547.67L107.73,549.56L108.44,550.82L109.15,550.81L109.86,551.51L110.58,552.36L111.3,550.57L112.03,549.85L112.76,550.26L113.5,552.53L114.24,550.95L114.99,551.25L115.74,551.27L116.5,551.29L117.26,551.75L118.02,553.53L118.79,553.85L119.57,554.38L120.35,554.37L121.13,554.27L121.92,552.59L122.71,556.01L123.51,555.24L124.31,557.04L125.12,556L125.93,555.63L126.74,557.06L127.56,554.46L128.38,556L129.21,558.21L130.04,556.57L130.88,557.94L131.72,557.77L132.56,558.21L133.41,558.13L134.26,557.01L135.12,559.46L135.98,557.97L136.84,558.6L137.71,560.22L138.58,558.37L139.46,557.48L140.34,558.86L141.23,562.15L142.11,562.4L143.01,560.72L143.9,562.57L144.8,561.67L145.71,559.6L146.62,559.27L147.53,561.11L148.44,560.29L149.36,561.39L150.29,561.52L151.22,559.46L152.15,560.98L153.08,560.73L154.02,560.73L154.96,560.84L155.91,563.61L156.86,562.71L157.81,562.93L158.77,561.6L159.73,563.28L160.69,563.01L161.66,564.04L162.63,564.86L163.61,562.69L164.59,565.49L165.57,564.74L166.56,565.09L167.54,562.63L168.54,564.22L169.53,563.26L170.53,564.49L171.54,564.91L172.54,566.36L173.56,565.08L174.57,565.89L175.59,564.39L176.61,564.51L177.63,567.31L178.66,568.05L179.69,565.91L180.73,567.13L181.76,567.5L182.81,567.36L183.85,566.6L184.9,567.68L185.95,566.62L187,567.08L188.06,566.82L189.12,568.01L190.19,569.75L191.26,566.07L192.33,568.97L193.4,566.9L194.48,568.68L195.56,567.65L196.65,569.28L197.73,570.53L198.82,569.98L199.92,571.74L201.01,571.25L202.12,568.85L203.22,568.97L204.33,569.78L205.44,570.9L206.55,568.65L207.66,569.45L208.78,569.04L209.91,569.97L211.03,568.94L212.16,568.62L213.29,569.38L214.43,571.49L215.57,569.42L216.71,570.02L217.85,572.32L219,571.76L220.15,569.32L221.3,571.97L222.46,571.8L223.62,569.46L224.78,568.07L225.94,569.88L227.11,570.6L228.28,568.37L229.46,569.55L230.64,569.5L231.82,571.67L233,571.69L233,578.44L231.82,577.37L230.64,577.76L229.46,576.35L228.28,577.39L227.11,576.68L225.94,575.48L224.78,574.1L223.62,575.61L222.46,577.12L221.3,578.07L220.15,576.78L219,577.15L217.85,578.52L216.71,575.88L215.57,576.3L214.43,576.7L213.29,575.65L212.16,575.72L211.03,576.68L209.91,576.57L208.78,574.97L207.66,576.94L206.55,575.46L205.44,576.34L204.33,574.89L203.22,577.19L202.12,574.87L201.01,575.05L199.92,577.31L198.82,577.01L197.73,576.48L196.65,573.7L195.56,573.54L194.48,574.3L193.4,572.94L192.33,575.81L191.26,572.04L190.19,573.98L189.12,572.65L188.06,574.33L187,575.2L185.95,573.59L184.9,572.93L183.85,572.91L182.81,574.28L181.76,575.39L180.73,574.8L179.69,574.38L178.66,574.4L177.63,573.79L176.61,571.83L175.59,570.66L174.57,570.85L173.56,571.77L172.54,571.44L171.54,571.56L170.53,570.01L169.53,569.81L168.54,569.36L167.54,570.24L166.56,570.68L165.57,570.9L164.59,572.67L163.61,569.63L162.63,569.29L161.66,569.02L160.69,570.41L159.73,569.63L158.77,568.2L157.81,568.21L156.86,567.12L155.91,567.43L154.96,567.65L154.02,566.7L153.08,565.07L152.15,565.98L151.22,566.12L150.29,566.9L149.36,566.28L148.44,566.27L147.53,567.38L146.62,567.21L145.71,566.13L144.8,568.82L143.9,569.2L143.01,566.3L142.11,566.78L141.23,565.81L140.34,566.69L139.46,566.23L138.58,564.19L137.71,565.14L136.84,565.4L135.98,564.3L135.12,564.55L134.26,563.74L133.41,562.14L132.56,563.44L131.72,563.18L130.88,562.05L130.04,561.9L129.21,562.13L128.38,563.17L127.56,561.71L126.74,563.21L125.93,563.71L125.12,561.68L124.31,561.19L123.51,563.57L122.71,559.56L121.92,558.82L121.13,560.47L120.35,559.95L119.57,562.11L118.79,558.18L118.02,558.12L117.26,559.25L116.5,557.38L115.74,559.23L114.99,557.49L114.24,557.4L113.5,557.92L112.76,558.63L112.03,556.74L111.3,556.13L110.58,555.82L109.86,556.68L109.15,555.35L108.44,557.04L107.73,555.84L107.04,553.74L106.34,555.55L105.65,554.79L104.97,553.61L104.29,554.47L103.62,554.93L102.95,554.17L102.29,552.83L101.63,550.87L100.98,551.81L100.34,549.94L99.7,550.3L99.06,550.12L98.43,549.89L97.81,551.05L97.19,550.34L96.57,547.55L95.97,547.69L95.37,545.23L94.77,545.48L94.18,544L93.6,543.49L93.02,541.75L92.45,540.44L91.88,538.7L91.33,537.99L90.77,536.3L90.23,535.16L89.69,532.51L89.15,532.24L88.63,533.29L88.11,531.74L87.59,531.04L87.09,531.52L86.59,529.25L86.1,529.78L85.61,530.65L85.13,530.06L84.66,527.11L84.2,527.89L83.75,528.08L83.3,526.3L82.86,525.38L82.43,524.14L82.01,524.99L81.59,524.45L81.18,524.47L80.79,522.72L80.4,521.45L80.02,522.12L79.65,518.39L79.29,517.71L78.94,515.75L78.6,515.69L78.27,513.46L77.95,511.54L77.64,509.18L77.35,508.16L77.06,504.63L76.79,503.13L76.53,500.29L76.29,497.78L76.06,495.71L75.84,491.93L75.65,487.38L75.47,484.54L75.31,479.93L75.18,478.29L75.08,478.12L75.02,476.53Z" fill="#a9a5dc" stroke="none" opacity="0.8"/>
<path d="M78.65,471.13L78.71,472.11L78.81,472.72L78.93,475.07L79.09,479.57L79.26,482.69L79.45,490.92L79.66,497.08L79.89,502.21L80.12,505.77L80.38,509.9L80.64,514.16L80.92,515.94L81.21,515.61L81.51,515.81L81.82,516.66L82.14,516.97L82.48,520.33L82.82,518.86L83.17,521.06L83.53,522.69L83.9,521.57L84.28,524.88L84.67,524.03L85.07,525.19L85.47,525.5L85.89,526.72L86.31,528.02L86.74,528.62L87.17,529.43L87.62,530.59L88.07,530.91L88.53,532.48L89,533.04L89.47,534.45L89.95,534.53L90.44,534.51L90.93,536.59L91.43,537.2L91.94,537.17L92.46,540.22L92.98,539.71L93.5,541.8L94.04,541.56L94.58,544.08L95.12,543.57L95.68,545.67L96.23,544.17L96.8,545.49L97.37,547.58L97.94,546.54L98.53,547.85L99.11,547.31L99.71,548.62L100.31,548.42L100.91,548.77L101.52,550.27L102.13,548.68L102.76,549.93L103.38,549.11L104.01,549.77L104.65,550.95L105.29,550.07L105.94,550.39L106.59,551.67L107.25,552.28L107.91,551.64L108.58,551.88L109.25,552.18L109.93,552.16L110.61,553.81L111.3,553.57L111.99,553.17L112.69,553.49L113.39,552.2L114.1,555.16L114.81,555.95L115.52,555.4L116.24,555.92L116.97,554.51L117.7,556.18L118.43,557L119.17,556.73L119.92,555.25L120.66,556.21L121.42,556.72L122.17,558.5L122.93,558.17L123.7,559.05L124.47,558.7L125.24,556.85L126.02,556.45L126.81,557.39L127.59,556.85L128.38,559.95L129.18,558.03L129.98,559.21L130.78,558.31L131.59,560.26L132.41,559.05L133.22,559.52L134.04,561.13L134.87,559.84L135.7,561.71L136.53,559.7L137.37,560.03L138.21,562.18L139.05,562.12L139.9,561.87L140.75,563.21L141.61,560.83L142.47,563.39L143.33,560.88L144.2,560.5L145.07,562.88L145.95,561.63L146.83,560.93L147.71,561.04L148.6,562L149.49,564.47L150.39,562.24L151.28,561.52L152.19,562.82L153.09,562.8L154,564.79L154.92,563.55L155.83,563.41L156.75,563.21L157.68,565.18L158.61,564.07L159.54,564.56L160.47,563.62L161.41,565.23L162.35,563.49L163.3,565.41L164.25,565.58L165.2,564.07L166.16,562.67L167.12,564.57L168.08,564.42L169.05,565.23L170.02,564.57L170.99,565.95L171.97,566.17L172.95,564.3L173.93,565.46L174.92,565.02L175.91,566.81L176.91,565.25L177.9,568.09L178.9,567.34L179.91,568.35L180.92,568.4L181.93,566.62L182.94,565.63L183.96,568.46L184.98,565.42L186,568.07L187.03,566.79L188.06,567.24L189.09,568.56L190.13,568.43L191.17,569.52L192.21,568.29L193.26,570.08L194.31,568.29L195.36,570.56L196.42,570.15L197.48,569.05L198.54,569.39L199.61,568.75L200.68,569.11L201.75,567.83L202.82,568.86L203.9,568.41L204.98,569.07L206.07,568.19L207.16,569.13L208.25,569.07L209.34,569.64L210.44,570.14L211.54,569.56L212.64,569.82L213.74,569.65L214.85,569.68L215.97,568.45L217.08,569.03L218.2,568.3L219.32,570.05L220.44,569.79L221.57,568.89L222.7,567.44L223.83,568.33L224.97,569.86L226.11,570.62L227.25,570.53L228.39,569.22L229.54,569.07L230.69,571.03L231.84,570.21L233,569.29L233,576.59L231.84,574.19L230.69,576.59L229.54,573.62L228.39,575.93L227.25,575.47L226.11,576.38L224.97,575.15L223.83,575.04L222.7,574.37L221.57,575.9L220.44,573.89L219.32,575.73L218.2,574.78L217.08,574.16L215.97,573.91L214.85,575.09L213.74,574.24L212.64,575.47L211.54,573.68L210.44,575.04L209.34,573.32L208.25,575.51L207.16,574.54L206.07,574.12L204.98,573.91L203.9,572.29L202.82,573.3L201.75,575.25L200.68,575.09L199.61,573.96L198.54,575.35L197.48,574.63L196.42,575.15L195.36,574.07L194.31,573.92L193.26,575.46L192.21,573.47L191.17,572.75L190.13,573.18L189.09,574.24L188.06,573.75L187.03,574.15L186,573.13L184.98,571.88L183.96,572.15L182.94,571.03L181.93,572.82L180.92,572.79L179.91,571.96L178.9,570.69L177.9,571.79L176.91,571.64L175.91,573.62L174.92,570.71L173.93,570.98L172.95,572L171.97,569.76L170.99,569.79L170.02,569.44L169.05,571.44L168.08,570.19L167.12,571.41L166.16,568.99L165.2,568.67L164.25,569.92L163.3,570.31L162.35,570.04L161.41,569.57L160.47,569.1L159.54,569.3L158.61,568.25L157.68,569.78L156.75,568.69L155.83,569.07L154.92,569.17L154,569.54L153.09,567.44L152.19,570.19L151.28,566.33L150.39,567.83L149.49,569.42L148.6,569.52L147.71,566.34L146.83,566.3L145.95,567.74L145.07,566.89L144.2,567.9L143.33,568.64L142.47,567.75L141.61,567.57L140.75,567.38L139.9,567.52L139.05,567.04L138.21,566.73L137.37,566.16L136.53,566.8L135.7,564.63L134.87,564.99L134.04,566.73L133.22,564.85L132.41,565.96L131.59,566.07L130.78,563.82L129.98,564.79L129.18,563.4L128.38,565.25L127.59,564.02L126.81,563.43L126.02,563L125.24,562.26L124.47,562.86L123.7,563.35L122.93,562.28L122.17,561.88L121.42,563.59L120.66,563.31L119.92,562.21L119.17,562.97L118.43,562.7L117.7,561.5L116.97,561.35L116.24,559.87L115.52,561.42L114.81,561.68L114.1,560.44L113.39,558.5L112.69,559.28L111.99,558.74L111.3,557.08L110.61,559.1L109.93,557.55L109.25,557.67L108.58,558.31L107.91,557.25L107.25,556.3L106.59,556.33L105.94,555.4L105.29,555.87L104.65,556.41L104.01,553.77L103.38,554.33L102.76,554.25L102.13,555.37L101.52,553.55L100.91,555.42L100.31,553.22L99.71,552.75L99.11,552.97L98.53,552.79L97.94,553.63L97.37,552.21L96.8,552.64L96.23,550.99L95.68,550.12L95.12,548.09L94.58,549.76L94.04,549.05L93.5,547.02L92.98,545.78L92.46,544.27L91.94,541.97L91.43,542.02L90.93,541.68L90.44,539.73L89.95,538.79L89.47,538.21L89,538.31L88.53,536.96L88.07,535.22L87.62,534.82L87.17,533.42L86.74,533.5L86.31,532.35L85.89,531.22L85.47,531.01L85.07,531.95L84.67,530.01L84.28,528.44L83.9,526.61L83.53,528.72L83.17,525.21L82.82,525.37L82.48,523.42L82.14,524.49L81.82,521.8L81.51,521.15L81.21,521.76L80.92,520.38L80.64,518.58L80.38,514.71L80.12,510.29L79.89,507.03L79.66,501.45L79.45,494.58L79.26,490.15L79.09,483.8L78.93,481.83L78.81,479.01L78.71,475.44L78.65,475.22Z" fill="#9ad694" stroke="none" opacity="0.8"/>
<path d="M75.02,470.37L75.08,471.54L75.18,474.52L75.31,477.8L75.47,481.91L75.65,484.91L75.84,487.87L76.06,493.07L76.29,494.43L76.53,495.97L76.79,497.96L77.06,500.22L77.35,503.19L77.64,504.93L77.95,506.78L78.27,508.45L78.6,510.69L78.94,511.08L79.29,512.51L79.65,513.98L80.02,515.55L80.4,516.4L80.79,516.46L81.18,517.39L81.59,518.98L82.01,520.37L82.43,520.57L82.86,521.66L83.3,523.3L83.75,523.25L84.2,526.38L84.66,526.17L85.13,527.11L85.61,527.95L86.1,529.95L86.59,531.41L87.09,532.53L87.59,533.07L88.11,532.97L88.63,533.64L89.15,536.28L89.69,536.81L90.23,537.62L90.77,538.29L91.33,539.44L91.88,540.19L92.45,540.81L93.02,541.57L93.6,541.38L94.18,543.38L94.77,544.26L95.37,544.52L95.97,545.89L96.57,544.99L97.19,547.21L97.81,547.15L98.43,547.94L99.06,547.42L99.7,547.69L100.34,548.87L100.98,548.68L101.63,549.84L102.29,549.41L102.95,550.94L103.62,551.34L104.29,551.84L104.97,551.45L105.65,552.51L106.34,553.6L107.04,552.97L107.73,554.34L108.44,555.94L109.15,554.79L109.86,556.72L110.58,557.44L111.3,557.89L112.03,557.64L112.76,559.27L113.5,558.68L114.24,559.62L114.99,559.48L115.74,559.8L116.5,560.43L117.26,559.91L118.02,559.79L118.79,561.28L119.57,561.38L120.35,561.33L121.13,562.74L121.92,563.01L122.71,563.22L123.51,563.35L124.31,564.61L125.12,564.2L125.93,565.66L126.74,564.51L127.56,567.12L128.38,566.93L129.21,566.66L130.04,566.98L130.88,567.88L131.72,568.78L132.56,568.24L133.41,567.86L134.26,567.88L135.12,568.27L135.98,569.16L136.84,569.32L137.71,568.93L138.58,571.08L139.46,570.06L140.34,571.33L141.23,570.13L142.11,571.07L143.01,570.84L143.9,570.93L144.8,571.72L145.71,573.1L146.62,572.08L147.53,573.86L148.44,573.57L149.36,573.08L150.29,573.83L151.22,574.91L152.15,575.03L153.08,575.08L154.02,575.77L154.96,575.49L155.91,575.28L156.86,576.11L157.81,575.18L158.77,576.37L159.73,576.39L160.69,577.4L161.66,576.33L162.63,576.99L163.61,575.98L164.59,577.4L165.57,577.32L166.56,576.8L167.54,577.35L168.54,579.23L169.53,577.84L170.53,577.59L171.54,578.24L172.54,579.14L173.56,579.61L174.57,578.58L175.59,579.14L176.61,579.4L177.63,578.8L178.66,579.27L179.69,580.14L180.73,579.18L181.76,579.3L182.81,580.18L183.85,581.89L184.9,580.7L185.95,580.88L187,581.77L188.06,582.28L189.12,581.58L190.19,581.9L191.26,581.92L192.33,581.9L193.4,582.28L194.48,581.62L195.56,582L196.65,582.72L197.73,581.99L198.82,583.39L199.92,581.87L201.01,583.11L202.12,582.25L203.22,582.37L204.33,583.49L205.44,583.13L206.55,582.62L207.66,584.14L208.78,584.64L209.91,584.21L211.03,584L212.16,583.4L213.29,584.62L214.43,583.8L215.57,584.53L216.71,585.93L217.85,583.84L219,584.81L220.15,584.57L221.3,584.9L222.46,585.89L223.62,585.25L224.78,584.48L225.94,586.38L227.11,586.63L228.28,585.53L229.46,587.26L230.64,585.42L231.82,585.31L233,586.28L233,589.6L231.82,589.75L230.64,590.42L229.46,589.52L228.28,590.8L227.11,590.44L225.94,588.76L224.78,588.81L223.62,588.91L222.46,589.99L221.3,588.37L220.15,589.72L219,588.7L217.85,589.09L216.71,588.59L215.57,587.2L214.43,587.89L213.29,588.73L212.16,589.07L211.03,587.59L209.91,588.02L208.78,588.45L207.66,587.22L206.55,587.6L205.44,588.05L204.33,588.6L203.22,587.57L202.12,586L201.01,586.26L199.92,586.82L198.82,586.54L197.73,587.21L196.65,586.9L195.56,586.95L194.48,586.55L193.4,585.33L192.33,584.92L191.26,586.06L190.19,585.71L189.12,585.19L188.06,584.88L187,584.06L185.95,585.76L184.9,583.63L183.85,584.02L182.81,584.12L181.76,584.26L180.73,584.1L179.69,582.58L178.66,582.87L177.63,582.4L176.61,583.39L175.59,584.14L174.57,581.98L173.56,581.76L172.54,582.88L171.54,582.65L170.53,582.17L169.53,582.92L168.54,582.07L167.54,582.52L166.56,581.21L165.57,581.11L164.59,581.8L163.61,579.93L162.63,580.62L161.66,579.48L160.69,580.67L159.73,579.07L158.77,578.54L157.81,580.25L156.86,579.58L155.91,579.85L154.96,578.05L154.02,578.24L153.08,578.9L152.15,578.35L151.22,579.62L150.29,578.17L149.36,577.82L148.44,577.06L147.53,576.18L146.62,576.21L145.71,577.43L144.8,576.73L143.9,574.74L143.01,576.57L142.11,574.77L141.23,574.87L140.34,575.44L139.46,574.88L138.58,573.72L137.71,574.28L136.84,573.3L135.98,572.76L135.12,572.96L134.26,573.14L133.41,571.81L132.56,570.99L131.72,571.43L130.88,570.96L130.04,570.81L129.21,570.23L128.38,570.8L127.56,570.55L126.74,568.35L125.93,570.32L125.12,567.54L124.31,568.41L123.51,566.88L122.71,566.39L121.92,567.2L121.13,565.79L120.35,566.8L119.57,564.93L118.79,564.81L118.02,564.2L117.26,564.67L116.5,564L115.74,564.22L114.99,563.3L114.24,563.3L113.5,562.18L112.76,563.02L112.03,560.48L111.3,562.25L110.58,561.49L109.86,560.5L109.15,559.19L108.44,559.91L107.73,558.56L107.04,558.08L106.34,557.72L105.65,556.95L104.97,556.55L104.29,555.16L103.62,555.01L102.95,555.03L102.29,553.65L101.63,554.36L100.98,553.32L100.34,553.46L99.7,553L99.06,551.36L98.43,552.71L97.81,550.88L97.19,550.07L96.57,549.62L95.97,549.88L95.37,548.72L94.77,549.59L94.18,548.2L93.6,546.89L93.02,545.22L92.45,544.66L91.88,543.61L91.33,542.96L90.77,541.91L90.23,541.71L89.69,540.42L89.15,540.45L88.63,537.84L88.11,537.11L87.59,537.17L87.09,535.45L86.59,534.46L86.1,533.45L85.61,532.6L85.13,531.73L84.66,529.3L84.2,529.06L83.75,528.92L83.3,526.37L82.86,526.35L82.43,524.66L82.01,524.01L81.59,522.62L81.18,522.43L80.79,520.76L80.4,520.78L80.02,519.78L79.65,518.84L79.29,516.15L78.94,516.02L78.6,512.93L78.27,512.09L77.95,510.76L77.64,509.72L77.35,507.2L77.06,504.42L76.79,503.09L76.53,501.63L76.29,499.67L76.06,495.98L75.84,492.28L75.65,488.66L75.47,484.27L75.31,481.55L75.18,479.53L75.08,476.63L75.02,473.93Z" fill="#ef9a9a" stroke="none" opacity="0.8"/>
<path d="M75.02,472.81L75.08,474.5L75.18,477.55L75.31,482.24L75.47,490.41L75.65,496.12L75.84,498.29L76.06,500.49L76.29,502.98L76.53,506.31L76.79,510.65L77.06,515.5L77.35,517.96L77.64,520.18L77.95,522.13L78.27,523.17L78.6,524.52L78.94,525.48L79.29,527.09L79.65,527.74L80.02,529.37L80.4,530.77L80.79,532.06L81.18,532.65L81.59,533.67L82.01,535.87L82.43,536.95L82.86,538.23L83.3,539.06L83.75,540.18L84.2,540.52L84.66,541.09L85.13,541.18L85.61,542.27L86.1,542.51L86.59,543.66L87.09,542.77L87.59,543.5L88.11,543.62L88.63,545.59L89.15,545.05L89.69,547.53L90.23,548.13L90.77,549.35L91.33,548.17L91.88,548.74L92.45,551.02L93.02,551.96L93.6,552.78L94.18,551.44L94.77,553.05L95.37,554.98L95.97,553.25L96.57,554.87L97.19,554.06L97.81,555.06L98.43,555.46L99.06,556.59L99.7,555.59L100.34,555.82L100.98,557.17L101.63,558.1L102.29,556.5L102.95,557.18L103.62,557.32L104.29,559.68L104.97,559.7L105.65,559.34L106.34,561.42L107.04,561.67L107.73,561.36L108.44,563.01L109.15,563.67L109.86,563.53L110.58,565.79L111.3,565.45L112.03,566.07L112.76,568.12L113.5,569.02L114.24,570.01L114.99,570.36L115.74,569.54L116.5,570.32L117.26,571.63L118.02,571.53L118.79,571.12L119.57,570.21L120.35,569.17L121.13,570.45L121.92,570.76L122.71,570.27L123.51,569.03L124.31,569.03L125.12,568.9L125.93,569.67L126.74,570.33L127.56,570.96L128.38,570.62L129.21,572.99L130.04,572.54L130.88,572.5L131.72,573.91L132.56,573.47L133.41,575.82L134.26,574.44L135.12,574.5L135.98,576.02L136.84,576L137.71,574.44L138.58,573.71L139.46,575.55L140.34,574.88L141.23,574.2L142.11,574.67L143.01,573.33L143.9,573.35L144.8,575.5L145.71,574.95L146.62,575.66L147.53,576.12L148.44,577.89L149.36,576.34L150.29,578.02L151.22,577.64L152.15,579.17L153.08,577.92L154.02,580.17L154.96,578.54L155.91,578.56L156.86,579.54L157.81,579.13L158.77,578.49L159.73,578.84L160.69,577.62L161.66,577.72L162.63,577.58L163.61,578.91L164.59,579.58L165.57,580.32L166.56,580.62L167.54,580.85L168.54,581.48L169.53,582.47L170.53,581.03L171.54,581.79L172.54,583.26L173.56,583.58L174.57,582.16L175.59,582.79L176.61,580.76L177.63,580.43L178.66,581.72L179.69,581.38L180.73,580.78L181.76,581.58L182.81,582.56L183.85,583.49L184.9,582.42L185.95,583.77L187,582.99L188.06,583.69L189.12,584.33L190.19,584.42L191.26,584.77L192.33,586.36L193.4,586.29L194.48,584.52L195.56,584.09L196.65,584.03L197.73,582.79L198.82,583.29L199.92,583.75L201.01,584.53L202.12,584.98L203.22,584.24L204.33,584.68L205.44,586.06L206.55,586.69L207.66,586.31L208.78,588.37L209.91,588.7L211.03,587.47L212.16,587.78L213.29,587.43L214.43,587.68L215.57,586.97L216.71,584.95L217.85,584.64L219,584.93L220.15,585.06L221.3,585.6L222.46,586.07L223.62,588.75L224.78,589.12L225.94,589.78L227.11,589.3L228.28,589.51L229.46,588.04L230.64,589.6L231.82,587.92L233,588.72" stroke="#6e6e6e" stroke-width="0.9" fill="none" stroke-linejoin="round"/>
<path d="M75.02,472.8L75.08,474.44L75.18,477.02L75.31,481L75.47,486.49L75.65,492.67L75.84,495.7L76.06,498.18L76.29,500.37L76.53,503.08L76.79,506.84L77.06,510.18L77.35,513.89L77.64,516.39L77.95,518.27L78.27,520.18L78.6,521.7L78.94,522.95L79.29,524.08L79.65,525.09L80.02,526.66L80.4,527.6L80.79,528.57L81.18,529.32L81.59,530.93L82.01,531.36L82.43,533.03L82.86,534.11L83.3,535.06L83.75,535.77L84.2,536.6L84.66,538.3L85.13,538.4L85.61,538.9L86.1,539.78L86.59,540.57L87.09,541.36L87.59,542L88.11,542.51L88.63,543.83L89.15,544.14L89.69,544.82L90.23,546.08L90.77,546.03L91.33,546.6L91.88,547.8L92.45,548.57L93.02,548.64L93.6,550.12L94.18,550.46L94.77,550.95L95.37,550.69L95.97,551.6L96.57,552.65L97.19,552.71L97.81,552.44L98.43,553.28L99.06,553.56L99.7,553.63L100.34,553.29L100.98,553.59L101.63,555.45L102.29,555.36L102.95,556.05L103.62,556.68L104.29,557.07L104.97,557.35L105.65,558.49L106.34,558.91L107.04,560.06L107.73,560.04L108.44,560.7L109.15,562.41L109.86,562.85L110.58,563.38L111.3,563.71L112.03,565.45L112.76,565.3L113.5,565.38L114.24,567.07L114.99,566.5L115.74,567.84L116.5,566.58L117.26,568.2L118.02,567.94L118.79,568.41L119.57,568.22L120.35,568.12L121.13,568.39L121.92,568.79L122.71,568.99L123.51,568.73L124.31,570.07L125.12,569.52L125.93,570.37L126.74,571.3L127.56,571.69L128.38,570.84L129.21,571.68L130.04,572.45L130.88,573.35L131.72,572.05L132.56,572.83L133.41,573.38L134.26,573.39L135.12,572.71L135.98,572.79L136.84,573.44L137.71,572.86L138.58,572.89L139.46,572.6L140.34,574.12L141.23,573.34L142.11,574.16L143.01,573.53L143.9,574.61L144.8,575.5L145.71,575.08L146.62,575.53L147.53,576.89L148.44,577.33L149.36,577.88L150.29,576.66L151.22,577.25L152.15,577.46L153.08,578.1L154.02,577.78L154.96,577.51L155.91,577.76L156.86,577.19L157.81,577.32L158.77,577.37L159.73,577.33L160.69,577.43L161.66,578.39L162.63,578.61L163.61,578.43L164.59,579.16L165.57,579.8L166.56,580.22L167.54,580.8L168.54,581.71L169.53,581.6L170.53,581.71L171.54,580.57L172.54,581.4L173.56,580.81L174.57,581.77L175.59,581.01L176.61,581.44L177.63,581.77L178.66,581.37L179.69,582.16L180.73,582.05L181.76,581.37L182.81,582.88L183.85,583.48L184.9,583.45L185.95,582.98L187,584.55L188.06,584.86L189.12,583.67L190.19,584.87L191.26,584.29L192.33,584.38L193.4,584.45L194.48,583.37L195.56,583.18L196.65,584.16L197.73,584.35L198.82,583.48L199.92,584.55L201.01,585.34L202.12,586.07L203.22,586.22L204.33,586.67L205.44,587.19L206.55,586.81L207.66,587.21L208.78,586.88L209.91,586.52L211.03,586.08L212.16,586.72L213.29,585.89L214.43,585.55L215.57,586.41L216.71,585.98L217.85,586.18L219,586.07L220.15,587.82L221.3,587.55L222.46,588.52L223.62,588.08L224.78,588.93L225.94,588.74L227.11,588.77L228.28,587.74L229.46,588.58L230.64,587.34L231.82,587.81L233,588.18" stroke="#3f9fd6" stroke-width="0.9" fill="none" stroke-linejoin="round"/>
<path d="M75.02,472.73L75.08,473.87L75.18,475.85L75.31,478.3L75.47,480.76L75.65,484.16L75.84,487.55L76.06,491.18L76.29,495.02L76.53,497.71L76.79,499.8L77.06,501.9L77.35,504.24L77.64,507.09L77.95,509.39L78.27,510.99L78.6,512.08L78.94,513.05L79.29,515.07L79.65,516.31L80.02,517.77L80.4,518.81L80.79,520.09L81.18,520.17L81.59,521.75L82.01,522.47L82.43,522.44L82.86,523.72L83.3,524.67L83.75,524.88L84.2,525.57L84.66,525.13L85.13,526.35L85.61,526.47L86.1,527.2L86.59,527.65L87.09,527.52L87.59,527.46L88.11,528.1L88.63,529.11L89.15,530.43L89.69,530.79L90.23,532.11L90.77,533.54L91.33,534.43L91.88,536.12L92.45,537.13L93.02,538.08L93.6,540.85L94.18,542.3L94.77,542.52L95.37,543.63L95.97,544.43L96.57,545.45L97.19,545.89L97.81,546.64L98.43,546.46L99.06,547.74L99.7,547.6L100.34,547.99L100.98,549.18L101.63,548.75L102.29,550.58L102.95,551.44L103.62,551.41L104.29,551.23L104.97,551.06L105.65,552.3L106.34,551.92L107.04,551.72L107.73,552.59L108.44,553.22L109.15,553.06L109.86,553.58L110.58,554.08L111.3,554.25L112.03,553.74L112.76,554.44L113.5,554.84L114.24,553.68L114.99,554.96L115.74,555.12L116.5,554.56L117.26,555.18L118.02,555.44L118.79,556.09L119.57,557.7L120.35,556.31L121.13,557.73L121.92,557.15L122.71,557.9L123.51,559L124.31,559.57L125.12,559.01L125.93,559.61L126.74,559.79L127.56,558.99L128.38,559.2L129.21,560.28L130.04,558.87L130.88,560.46L131.72,559.74L132.56,560.43L133.41,560.46L134.26,561.27L135.12,561.54L135.98,560.12L136.84,561.4L137.71,561.92L138.58,561.81L139.46,561.66L140.34,562.94L141.23,563.77L142.11,564.15L143.01,563.2L143.9,564.74L144.8,564.81L145.71,563.37L146.62,563.33L147.53,562.95L148.44,563.98L149.36,562.99L150.29,564.24L151.22,563.47L152.15,563.59L153.08,563.25L154.02,564.53L154.96,564.04L155.91,565.47L156.86,565.56L157.81,565.7L158.77,566.05L159.73,565.79L160.69,567.56L161.66,566.25L162.63,566.93L163.61,567.12L164.59,568.12L165.57,568.21L166.56,567.27L167.54,566.78L168.54,567.48L169.53,566.9L170.53,567.31L171.54,568.28L172.54,567.99L173.56,568.42L174.57,567.89L175.59,568.18L176.61,569.07L177.63,569.23L178.66,570.3L179.69,570.31L180.73,570.23L181.76,571.69L182.81,571.36L183.85,570.78L184.9,571.17L185.95,570.56L187,571.06L188.06,570.03L189.12,570L190.19,571.39L191.26,570.15L192.33,571.69L193.4,571.19L194.48,570.84L195.56,571.4L196.65,572.13L197.73,573.02L198.82,573.35L199.92,573.66L201.01,573.17L202.12,572.25L203.22,573.54L204.33,572.41L205.44,572.88L206.55,572.68L207.66,572.53L208.78,572.72L209.91,572.37L211.03,573.08L212.16,573L213.29,572.75L214.43,574.31L215.57,573.87L216.71,573.6L217.85,574.25L219,574.58L220.15,573.45L221.3,573.8L222.46,574.44L223.62,573.03L224.78,572.5L225.94,572.85L227.11,573.1L228.28,572.87L229.46,572.28L230.64,573.18L231.82,574.61L233,573.88" stroke="#33338f" stroke-width="1.2" fill="none" stroke-linejoin="round"/>
<path d="M78.65,472.84L78.71,473.67L78.81,475.71L78.93,478.55L79.09,481.22L79.26,486.31L79.45,492.31L79.66,499.83L79.89,504.35L80.12,508.61L80.38,512.6L80.64,516.14L80.92,517.85L81.21,518.17L81.51,519.4L81.82,519.39L82.14,520.6L82.48,521.68L82.82,522.15L83.17,523.81L83.53,524.82L83.9,525.16L84.28,526.41L84.67,527.8L85.07,528.26L85.47,528.34L85.89,529.1L86.31,530.04L86.74,531.22L87.17,531.96L87.62,532.08L88.07,533.3L88.53,534.8L89,534.99L89.47,535.8L89.95,535.88L90.44,536.81L90.93,538.73L91.43,539.37L91.94,540.5L92.46,542.22L92.98,542.17L93.5,543.89L94.04,545.51L94.58,546.25L95.12,546.6L95.68,547.13L96.23,547.96L96.8,549.31L97.37,548.92L97.94,549.68L98.53,549.38L99.11,550.64L99.71,551.11L100.31,551.7L100.91,552.32L101.52,551.9L102.13,552.55L102.76,551.82L103.38,552.67L104.01,552.36L104.65,553.29L105.29,552.71L105.94,553.79L106.59,553.44L107.25,554.54L107.91,554.54L108.58,554.74L109.25,555.06L109.93,554.36L110.61,555.83L111.3,555.58L111.99,555.5L112.69,556.47L113.39,555.95L114.1,557.1L114.81,558.09L115.52,558.58L116.24,558.14L116.97,557.87L117.7,559.59L118.43,559.75L119.17,560.09L119.92,559.04L120.66,560.07L121.42,560.33L122.17,560.5L122.93,560.17L123.7,560.73L124.47,560.79L125.24,560.51L126.02,560.05L126.81,560.68L127.59,560.63L128.38,561.42L129.18,561.45L129.98,561.52L130.78,560.99L131.59,562.21L132.41,562.88L133.22,563.25L134.04,562.77L134.87,563.49L135.7,563.22L136.53,563.65L137.37,563.45L138.21,564.91L139.05,564.39L139.9,565.08L140.75,564.75L141.61,564.75L142.47,565.52L143.33,564.71L144.2,564.29L145.07,564.26L145.95,564.78L146.83,564.74L147.71,564.93L148.6,565.64L149.49,565.88L150.39,564.95L151.28,565L152.19,566.27L153.09,565.22L154,566.16L154.92,566.44L155.83,566.53L156.75,566.89L157.68,567.18L158.61,566.29L159.54,566.58L160.47,567.28L161.41,567.36L162.35,566.61L163.3,566.95L164.25,567.49L165.2,566.39L166.16,566.63L167.12,568L168.08,567.85L169.05,568.14L170.02,568.07L170.99,568.29L171.97,567.88L172.95,568.19L173.93,569.27L174.92,568.87L175.91,569.94L176.91,569.1L177.9,569.74L178.9,568.86L179.91,569.82L180.92,570.06L181.93,569.46L182.94,569.48L183.96,569.99L184.98,569.21L186,570.28L187.03,570.23L188.06,570.17L189.09,570.4L190.13,569.82L191.17,570.99L192.21,571.58L193.26,572L194.31,571.35L195.36,571.93L196.42,572.18L197.48,571.64L198.54,571.67L199.61,571.19L200.68,571.33L201.75,571.65L202.82,570.62L203.9,570.51L204.98,571.02L206.07,572.04L207.16,572.29L208.25,571.72L209.34,571.98L210.44,572.18L211.54,572.11L212.64,572.43L213.74,571.73L214.85,573.14L215.97,571.9L217.08,571.7L218.2,572.15L219.32,572.16L220.44,572.03L221.57,572.44L222.7,571.21L223.83,571.56L224.97,571.66L226.11,572.6L227.25,573.22L228.39,572.18L229.54,572.11L230.69,572.65L231.84,572.37L233,572.64" stroke="#2a9a34" stroke-width="2.3" fill="none" stroke-linejoin="round"/>
<path d="M75.02,472.81L75.08,474.07L75.18,476.65L75.31,479.78L75.47,482.95L75.65,486.36L75.84,490.25L76.06,494.61L76.29,496.8L76.53,498.81L76.79,500.86L77.06,502.76L77.35,505.23L77.64,507.65L77.95,509.26L78.27,510.61L78.6,511.83L78.94,513.13L79.29,514.34L79.65,515.92L80.02,517.41L80.4,518.51L80.79,519.26L81.18,520.38L81.59,521.51L82.01,522.47L82.43,523.02L82.86,523.95L83.3,525.16L83.75,526.15L84.2,527.52L84.66,528.04L85.13,529.25L85.61,530.24L86.1,531.04L86.59,532.52L87.09,533.68L87.59,534.27L88.11,534.94L88.63,536.6L89.15,537.72L89.69,538.62L90.23,539.13L90.77,540.18L91.33,541.34L91.88,542.01L92.45,542.72L93.02,543.47L93.6,544.32L94.18,545.72L94.77,546.7L95.37,546.86L95.97,547.34L96.57,547.94L97.19,548.24L97.81,548.66L98.43,549.73L99.06,550.24L99.7,550.33L100.34,551.04L100.98,551.17L101.63,552.24L102.29,552.38L102.95,552.58L103.62,552.88L104.29,553.83L104.97,554.23L105.65,555.12L106.34,555.81L107.04,555.94L107.73,556.04L108.44,557.53L109.15,557.44L109.86,558.43L110.58,559.18L111.3,559.51L112.03,559.13L112.76,560.44L113.5,560.21L114.24,560.67L114.99,560.9L115.74,561.47L116.5,562.38L117.26,562.53L118.02,562.75L118.79,563.51L119.57,563.06L120.35,563.97L121.13,564.08L121.92,564.44L122.71,564.67L123.51,565.78L124.31,565.73L125.12,566.36L125.93,567.36L126.74,567.23L127.56,568.16L128.38,568.47L129.21,568.3L130.04,569.1L130.88,569.37L131.72,569.81L132.56,569.77L133.41,569.79L134.26,570.64L135.12,570.58L135.98,570.98L136.84,571.25L137.71,571.5L138.58,572.12L139.46,572.64L140.34,572.71L141.23,572.49L142.11,572.98L143.01,573.59L143.9,573.59L144.8,574.65L145.71,574.71L146.62,575.06L147.53,574.88L148.44,575.84L149.36,575.96L150.29,576.01L151.22,576.83L152.15,576.46L153.08,576.75L154.02,576.8L154.96,576.91L155.91,576.94L156.86,577.31L157.81,577.81L158.77,577.48L159.73,577.67L160.69,578.73L161.66,577.97L162.63,578.36L163.61,578.84L164.59,579.16L165.57,579.75L166.56,579.73L167.54,580.18L168.54,580.6L169.53,580.52L170.53,579.92L171.54,580.67L172.54,581.12L173.56,580.71L174.57,580.32L175.59,581.32L176.61,581.4L177.63,580.92L178.66,581.71L179.69,581.2L180.73,581.86L181.76,581.82L182.81,582.82L183.85,582.97L184.9,582.46L185.95,583.57L187,582.84L188.06,583.66L189.12,583.85L190.19,583.97L191.26,584.05L192.33,583.85L193.4,583.66L194.48,584.38L195.56,584.08L196.65,584.49L197.73,584.4L198.82,584.95L199.92,584.43L201.01,584.48L202.12,584.77L203.22,584.85L204.33,585.69L205.44,585.28L206.55,585.29L207.66,585.42L208.78,585.9L209.91,586.46L211.03,586.21L212.16,586.1L213.29,586.35L214.43,586.5L215.57,586.2L216.71,586.93L217.85,586.82L219,587.24L220.15,587.01L221.3,586.74L222.46,587.51L223.62,587.61L224.78,587.41L225.94,587.7L227.11,587.99L228.28,587.87L229.46,588.45L230.64,588.06L231.82,588.01L233,588.55" stroke="#c0141f" stroke-width="2.1" fill="none" stroke-linejoin="round"/>
</g>
<path d="M71.8,474V611.6M233.0,474V611.6M71.2,611H233.6" stroke="#1e1e1e" stroke-width="1.3" fill="none"/>
<path d="M68.2,611H71.8M233.0,611H236.6" stroke="#1e1e1e" stroke-width="1.1"/>
<text x="64.2" y="614.5" font-size="9.9" fill="#242424" stroke="#242424" stroke-width="0.12" text-anchor="end">0</text>
<text x="238.3" y="614.5" font-size="9.9" fill="#242424" stroke="#242424" stroke-width="0.12" text-anchor="start">0</text>
<path d="M69.6,597.7H71.8M233.0,597.7H235.2" stroke="#1e1e1e" stroke-width="0.9"/>
<path d="M68.2,584.4H71.8M233.0,584.4H236.6" stroke="#1e1e1e" stroke-width="1.1"/>
<text x="64.2" y="587.9" font-size="9.9" fill="#242424" stroke="#242424" stroke-width="0.12" text-anchor="end">20</text>
<text x="238.3" y="587.9" font-size="9.9" fill="#242424" stroke="#242424" stroke-width="0.12" text-anchor="start">20</text>
<path d="M69.6,571.1H71.8M233.0,571.1H235.2" stroke="#1e1e1e" stroke-width="0.9"/>
<path d="M68.2,557.8H71.8M233.0,557.8H236.6" stroke="#1e1e1e" stroke-width="1.1"/>
<text x="64.2" y="561.3" font-size="9.9" fill="#242424" stroke="#242424" stroke-width="0.12" text-anchor="end">40</text>
<text x="238.3" y="561.3" font-size="9.9" fill="#242424" stroke="#242424" stroke-width="0.12" text-anchor="start">40</text>
<path d="M69.6,544.5H71.8M233.0,544.5H235.2" stroke="#1e1e1e" stroke-width="0.9"/>
<path d="M68.2,531.2H71.8M233.0,531.2H236.6" stroke="#1e1e1e" stroke-width="1.1"/>
<text x="64.2" y="534.7" font-size="9.9" fill="#242424" stroke="#242424" stroke-width="0.12" text-anchor="end">60</text>
<text x="238.3" y="534.7" font-size="9.9" fill="#242424" stroke="#242424" stroke-width="0.12" text-anchor="start">60</text>
<path d="M69.6,517.9H71.8M233.0,517.9H235.2" stroke="#1e1e1e" stroke-width="0.9"/>
<path d="M68.2,504.6H71.8M233.0,504.6H236.6" stroke="#1e1e1e" stroke-width="1.1"/>
<text x="64.2" y="508.1" font-size="9.9" fill="#242424" stroke="#242424" stroke-width="0.12" text-anchor="end">80</text>
<text x="238.3" y="508.1" font-size="9.9" fill="#242424" stroke="#242424" stroke-width="0.12" text-anchor="start">80</text>
<path d="M69.6,491.3H71.8M233.0,491.3H235.2" stroke="#1e1e1e" stroke-width="0.9"/>
<path d="M68.2,478H71.8M233.0,478H236.6" stroke="#1e1e1e" stroke-width="1.1"/>
<text x="64.2" y="481.5" font-size="9.9" fill="#242424" stroke="#242424" stroke-width="0.12" text-anchor="end">100</text>
<text x="238.3" y="481.5" font-size="9.9" fill="#242424" stroke="#242424" stroke-width="0.12" text-anchor="start">100</text>
<path d="M71.8,611V614.8" stroke="#1e1e1e" stroke-width="1.1"/>
<text x="71.8" y="625.3" font-size="9.8" fill="#242424" stroke="#242424" stroke-width="0.12" text-anchor="middle">0</text>
<path d="M85.23,611V613.4" stroke="#1e1e1e" stroke-width="0.9"/>
<path d="M98.67,611V614.8" stroke="#1e1e1e" stroke-width="1.1"/>
<text x="98.67" y="625.3" font-size="9.8" fill="#242424" stroke="#242424" stroke-width="0.12" text-anchor="middle">10</text>
<path d="M112.1,611V613.4" stroke="#1e1e1e" stroke-width="0.9"/>
<path d="M125.53,611V614.8" stroke="#1e1e1e" stroke-width="1.1"/>
<text x="125.53" y="625.3" font-size="9.8" fill="#242424" stroke="#242424" stroke-width="0.12" text-anchor="middle">20</text>
<path d="M138.97,611V613.4" stroke="#1e1e1e" stroke-width="0.9"/>
<path d="M152.4,611V614.8" stroke="#1e1e1e" stroke-width="1.1"/>
<text x="152.4" y="625.3" font-size="9.8" fill="#242424" stroke="#242424" stroke-width="0.12" text-anchor="middle">30</text>
<path d="M165.83,611V613.4" stroke="#1e1e1e" stroke-width="0.9"/>
<path d="M179.27,611V614.8" stroke="#1e1e1e" stroke-width="1.1"/>
<text x="179.27" y="625.3" font-size="9.8" fill="#242424" stroke="#242424" stroke-width="0.12" text-anchor="middle">40</text>
<path d="M192.7,611V613.4" stroke="#1e1e1e" stroke-width="0.9"/>
<path d="M206.13,611V614.8" stroke="#1e1e1e" stroke-width="1.1"/>
<text x="206.13" y="625.3" font-size="9.8" fill="#242424" stroke="#242424" stroke-width="0.12" text-anchor="middle">50</text>
<path d="M219.57,611V613.4" stroke="#1e1e1e" stroke-width="0.9"/>
<path d="M233,611V614.8" stroke="#1e1e1e" stroke-width="1.1"/>
<text x="233" y="625.3" font-size="9.8" fill="#242424" stroke="#242424" stroke-width="0.12" text-anchor="middle">60</text>
<text transform="translate(42,542.4) rotate(-90)" font-size="10.8" fill="#242424" stroke="#242424" stroke-width="0.45" text-anchor="middle" word-spacing="1.2" textLength="92.5" lengthAdjust="spacingAndGlyphs">Clot growth rate (μm/min)</text>
<text transform="translate(152.2,641.5)" font-size="10.8" fill="#242424" stroke="#242424" stroke-width="0.45" text-anchor="middle" word-spacing="1.2" textLength="38.3" lengthAdjust="spacingAndGlyphs">Time (min)</text>
<rect x="100.5" y="512.3" width="18.8" height="8.6" fill="#9ad694" stroke="#2a9a34" stroke-width="0.4" stroke-opacity="0.6"/>
<path d="M100.5,516.6H119.3" stroke="#2a9a34" stroke-width="1.1"/>
<text x="122" y="519.7" font-size="8.7" fill="#242424" stroke="#242424" stroke-width="0.12" text-anchor="start">NPP</text>
<rect x="100.5" y="523.3" width="18.8" height="9" fill="#a9a5dc" stroke="#33338f" stroke-width="0.4" stroke-opacity="0.6"/>
<path d="M100.5,527.8H119.3" stroke="#33338f" stroke-width="1.1"/>
<text x="122" y="530.9" font-size="8.7" fill="#242424" stroke="#242424" stroke-width="0.12" text-anchor="start">FXIdp+0.12pM FXIa</text>
<rect x="75" y="576.25" width="20" height="11.5" fill="#c9c9c9" stroke="#6e6e6e" stroke-width="0.4" stroke-opacity="0.6"/>
<path d="M75,582H95" stroke="#6e6e6e" stroke-width="1.1"/>
<text x="96.3" y="585.1" font-size="8.7" fill="#242424" stroke="#242424" stroke-width="0.12" text-anchor="start">NPP + O1A6</text>
<rect x="75" y="588.05" width="20" height="10.5" fill="#ef9a9a" stroke="#c0141f" stroke-width="0.4" stroke-opacity="0.6"/>
<path d="M75,593.3H95" stroke="#c0141f" stroke-width="1.8"/>
<text x="96.3" y="596.4" font-size="8.7" fill="#242424" stroke="#242424" stroke-width="0.12" text-anchor="start">FXIdp</text>
<rect x="75" y="599" width="20" height="10" fill="#a8d4ee" stroke="#3f9fd6" stroke-width="0.4" stroke-opacity="0.6"/>
<path d="M75,604H95" stroke="#3f9fd6" stroke-width="1.1"/>
<text x="96.3" y="607.1" font-size="8.7" fill="#242424" stroke="#242424" stroke-width="0.12" text-anchor="start">NPP + αFXI-2</text>
<path d="M199.5,512.5C202,512.5 202.3,513.5 202.3,516.5C202.3,519.5 203,521 206.5,522C203,523 202.3,524.5 202.3,527.5C202.3,530.5 202,531.3 199.5,531.3" stroke="#6a6a6a" stroke-width="0.9" fill="none"/>
<path d="M211,522.3C219,522.5 223.5,535 225,561" stroke="#6a6a6a" stroke-width="0.9" fill="none"/>
<path d="M222.8,558.6L225.1,564L227,558.3Z" stroke="#6a6a6a" stroke-width="0.6" fill="#6a6a6a"/>
<path d="M151,579.8C153,579.8 153.3,581 153.3,585C153.3,590 153.8,592.3 156.5,593.5C153.8,594.7 153.3,597 153.3,601C153.3,605 153,606 151,606" stroke="#6a6a6a" stroke-width="0.9" fill="none"/>
<path d="M158.5,594.2C164,595.5 170,595 173.5,591.3" stroke="#6a6a6a" stroke-width="0.9" fill="none" stroke-dasharray="3,1.8"/>
<path d="M170.8,590.2L175,589.4L174.2,593.4" stroke="#6a6a6a" stroke-width="0.9" fill="none"/>
<text x="267.3" y="466" font-size="14" fill="#000" stroke="#000" stroke-width="0.45" stroke-linejoin="round" text-anchor="start" font-weight="bold">G</text>
<path d="M300.9,474.5V614.6M300.29999999999995,614H485.3" stroke="#1e1e1e" stroke-width="1.3" fill="none"/>
<path d="M298.7,607.3L303.29999999999995,605.7M298.7,610.6L303.29999999999995,609" stroke="#1e1e1e" stroke-width="1" fill="none"/>
<path d="M297.29999999999995,591.7H300.9" stroke="#1e1e1e" stroke-width="1.1"/>
<text x="293.7" y="595.2" font-size="9.8" fill="#242424" stroke="#242424" stroke-width="0.12" text-anchor="end">30</text>
<path d="M297.29999999999995,563.3H300.9" stroke="#1e1e1e" stroke-width="1.1"/>
<text x="293.7" y="566.8" font-size="9.8" fill="#242424" stroke="#242424" stroke-width="0.12" text-anchor="end">40</text>
<path d="M297.29999999999995,534.9H300.9" stroke="#1e1e1e" stroke-width="1.1"/>
<text x="293.7" y="538.4" font-size="9.8" fill="#242424" stroke="#242424" stroke-width="0.12" text-anchor="end">50</text>
<path d="M297.29999999999995,506.5H300.9" stroke="#1e1e1e" stroke-width="1.1"/>
<text x="293.7" y="510" font-size="9.8" fill="#242424" stroke="#242424" stroke-width="0.12" text-anchor="end">60</text>
<path d="M297.29999999999995,478.1H300.9" stroke="#1e1e1e" stroke-width="1.1"/>
<text x="293.7" y="481.6" font-size="9.8" fill="#242424" stroke="#242424" stroke-width="0.12" text-anchor="end">70</text>
<path d="M298.7,577.5H300.9" stroke="#1e1e1e" stroke-width="0.9"/>
<path d="M298.7,549.1H300.9" stroke="#1e1e1e" stroke-width="0.9"/>
<path d="M298.7,520.7H300.9" stroke="#1e1e1e" stroke-width="0.9"/>
<path d="M298.7,492.3H300.9" stroke="#1e1e1e" stroke-width="0.9"/>
<path d="M297.29999999999995,614.0H300.9" stroke="#1e1e1e" stroke-width="1.1"/>
<text x="293.7" y="617.3" font-size="9.8" fill="#242424" stroke="#242424" stroke-width="0.12" text-anchor="end">0</text>
<path d="M317.6,614.0V617.8" stroke="#1e1e1e" stroke-width="1.1"/>
<text x="317.6" y="629" font-size="9.2" fill="#242424" stroke="#242424" stroke-width="0.12" text-anchor="middle">0</text>
<path d="M334.05,614.0V616.4" stroke="#1e1e1e" stroke-width="0.9"/>
<path d="M350.5,614.0V617.8" stroke="#1e1e1e" stroke-width="1.1"/>
<text x="350.5" y="629" font-size="9.2" fill="#242424" stroke="#242424" stroke-width="0.12" text-anchor="middle">0.1</text>
<path d="M366.95,614.0V616.4" stroke="#1e1e1e" stroke-width="0.9"/>
<path d="M383.4,614.0V617.8" stroke="#1e1e1e" stroke-width="1.1"/>
<text x="383.4" y="629" font-size="9.2" fill="#242424" stroke="#242424" stroke-width="0.12" text-anchor="middle">0.2</text>
<path d="M399.85,614.0V616.4" stroke="#1e1e1e" stroke-width="0.9"/>
<path d="M416.3,614.0V617.8" stroke="#1e1e1e" stroke-width="1.1"/>
<text x="416.3" y="629" font-size="9.2" fill="#242424" stroke="#242424" stroke-width="0.12" text-anchor="middle">0.3</text>
<path d="M432.75,614.0V616.4" stroke="#1e1e1e" stroke-width="0.9"/>
<path d="M449.2,614.0V617.8" stroke="#1e1e1e" stroke-width="1.1"/>
<text x="449.2" y="629" font-size="9.2" fill="#242424" stroke="#242424" stroke-width="0.12" text-anchor="middle">0.4</text>
<path d="M465.65,614.0V616.4" stroke="#1e1e1e" stroke-width="0.9"/>
<path d="M482.1,614.0V617.8" stroke="#1e1e1e" stroke-width="1.1"/>
<text x="482.1" y="629" font-size="9.2" fill="#242424" stroke="#242424" stroke-width="0.12" text-anchor="middle">0.5</text>
<text transform="translate(277.7,540.4) rotate(-90)" font-size="10.8" fill="#242424" stroke="#242424" stroke-width="0.45" text-anchor="middle" word-spacing="1.2" textLength="111" lengthAdjust="spacingAndGlyphs">Averaged growth rate (μm/min)</text>
<text transform="translate(393,645)" font-size="10.8" fill="#242424" stroke="#242424" stroke-width="0.45" text-anchor="middle" word-spacing="1.2" textLength="35" lengthAdjust="spacingAndGlyphs">FXIa (pM)</text>
<path d="M317.6,580.34L337.34,559.04L357.08,546.26L396.56,526.38L475.52,509.34" stroke="#3fa838" stroke-width="1.1" fill="none"/>
<path d="M317.6,591.98L337.34,583.18L357.08,574.09L396.56,550.52L475.52,523.54" stroke="#4f2170" stroke-width="1.1" fill="none"/>
<path d="M317.6,576.34L321.6,580.34L317.6,584.34L313.6,580.34Z" fill="#3fa838"/>
<path d="M337.34,557.34V560.74M335.34,557.34H339.34M335.34,560.74H339.34" stroke="#3fa838" stroke-width="0.9" fill="none"/>
<path d="M337.34,555.04L341.34,559.04L337.34,563.04L333.34,559.04Z" fill="#3fa838"/>
<path d="M357.08,540.58V551.94M355.08,540.58H359.08M355.08,551.94H359.08" stroke="#3fa838" stroke-width="0.9" fill="none"/>
<path d="M357.08,542.26L361.08,546.26L357.08,550.26L353.08,546.26Z" fill="#3fa838"/>
<path d="M396.56,524.68V528.08M394.56,524.68H398.56M394.56,528.08H398.56" stroke="#3fa838" stroke-width="0.9" fill="none"/>
<path d="M396.56,522.38L400.56,526.38L396.56,530.38L392.56,526.38Z" fill="#3fa838"/>
<path d="M475.52,507.92V510.76M473.52,507.92H477.52M473.52,510.76H477.52" stroke="#3fa838" stroke-width="0.9" fill="none"/>
<path d="M475.52,505.34L479.52,509.34L475.52,513.34L471.52,509.34Z" fill="#3fa838"/>
<rect x="314.9" y="589.28" width="5.4" height="5.4" fill="#4f2170"/>
<path d="M337.34,580.91V585.45M335.34,580.91H339.34M335.34,585.45H339.34" stroke="#4f2170" stroke-width="0.9" fill="none"/>
<rect x="334.64" y="580.48" width="5.4" height="5.4" fill="#4f2170"/>
<path d="M357.08,568.41V579.77M355.08,568.41H359.08M355.08,579.77H359.08" stroke="#4f2170" stroke-width="0.9" fill="none"/>
<rect x="354.38" y="571.39" width="5.4" height="5.4" fill="#4f2170"/>
<path d="M396.56,544.84V556.2M394.56,544.84H398.56M394.56,556.2H398.56" stroke="#4f2170" stroke-width="0.9" fill="none"/>
<rect x="393.86" y="547.82" width="5.4" height="5.4" fill="#4f2170"/>
<path d="M475.52,520.13V526.95M473.52,520.13H477.52M473.52,526.95H477.52" stroke="#4f2170" stroke-width="0.9" fill="none"/>
<rect x="472.82" y="520.84" width="5.4" height="5.4" fill="#4f2170"/>
<circle cx="317.6" cy="599.65" r="3.0" fill="#c5102d"/>
<path d="M475.52,589.26V599.26M473.52,589.26H477.52M473.52,599.26H477.52" stroke="#1b4380" stroke-width="0.9" fill="none"/>
<path d="M475.52,590.09L479.12,596.39L471.92,596.39Z" fill="#1b4380"/>
<path d="M310,480H327.5" stroke="#4f2170" stroke-width="1.1"/>
<rect x="316" y="477.3" width="5.4" height="5.4" fill="#4f2170"/>
<text x="331.7" y="483.1" font-size="8.65" fill="#242424" stroke="#242424" stroke-width="0.12" text-anchor="start">FXI-dp</text>
<path d="M310,492.1H327.5" stroke="#1b4380" stroke-width="1.1"/>
<path d="M318.7,488.5L322.3,494.8L315.1,494.8Z" fill="#1b4380"/>
<text x="331.7" y="495.2" font-size="8.65" fill="#242424" stroke="#242424" stroke-width="0.12" text-anchor="start">FXI-dp + 0.48 pM FXIa + αFXI-2</text>
<path d="M310,504.2H327.5" stroke="#c5102d" stroke-width="1.1"/>
<circle cx="318.7" cy="504.2" r="3.0" fill="#c5102d"/>
<text x="331.7" y="507.3" font-size="8.65" fill="#242424" stroke="#242424" stroke-width="0.12" text-anchor="start">FXI-dp + αFXI-2</text>
<path d="M310,516.3H327.5" stroke="#3fa838" stroke-width="1.1"/>
<path d="M318.7,512.3L322.7,516.3L318.7,520.3L314.7,516.3Z" fill="#3fa838"/>
<text x="331.7" y="519.4" font-size="8.65" fill="#242424" stroke="#242424" stroke-width="0.12" text-anchor="start">Normal plasma</text>
<rect x="0.5" y="0.5" width="519" height="655" fill="none" stroke="#3c3c3c" stroke-width="1"/>
</svg>
</body></html>
